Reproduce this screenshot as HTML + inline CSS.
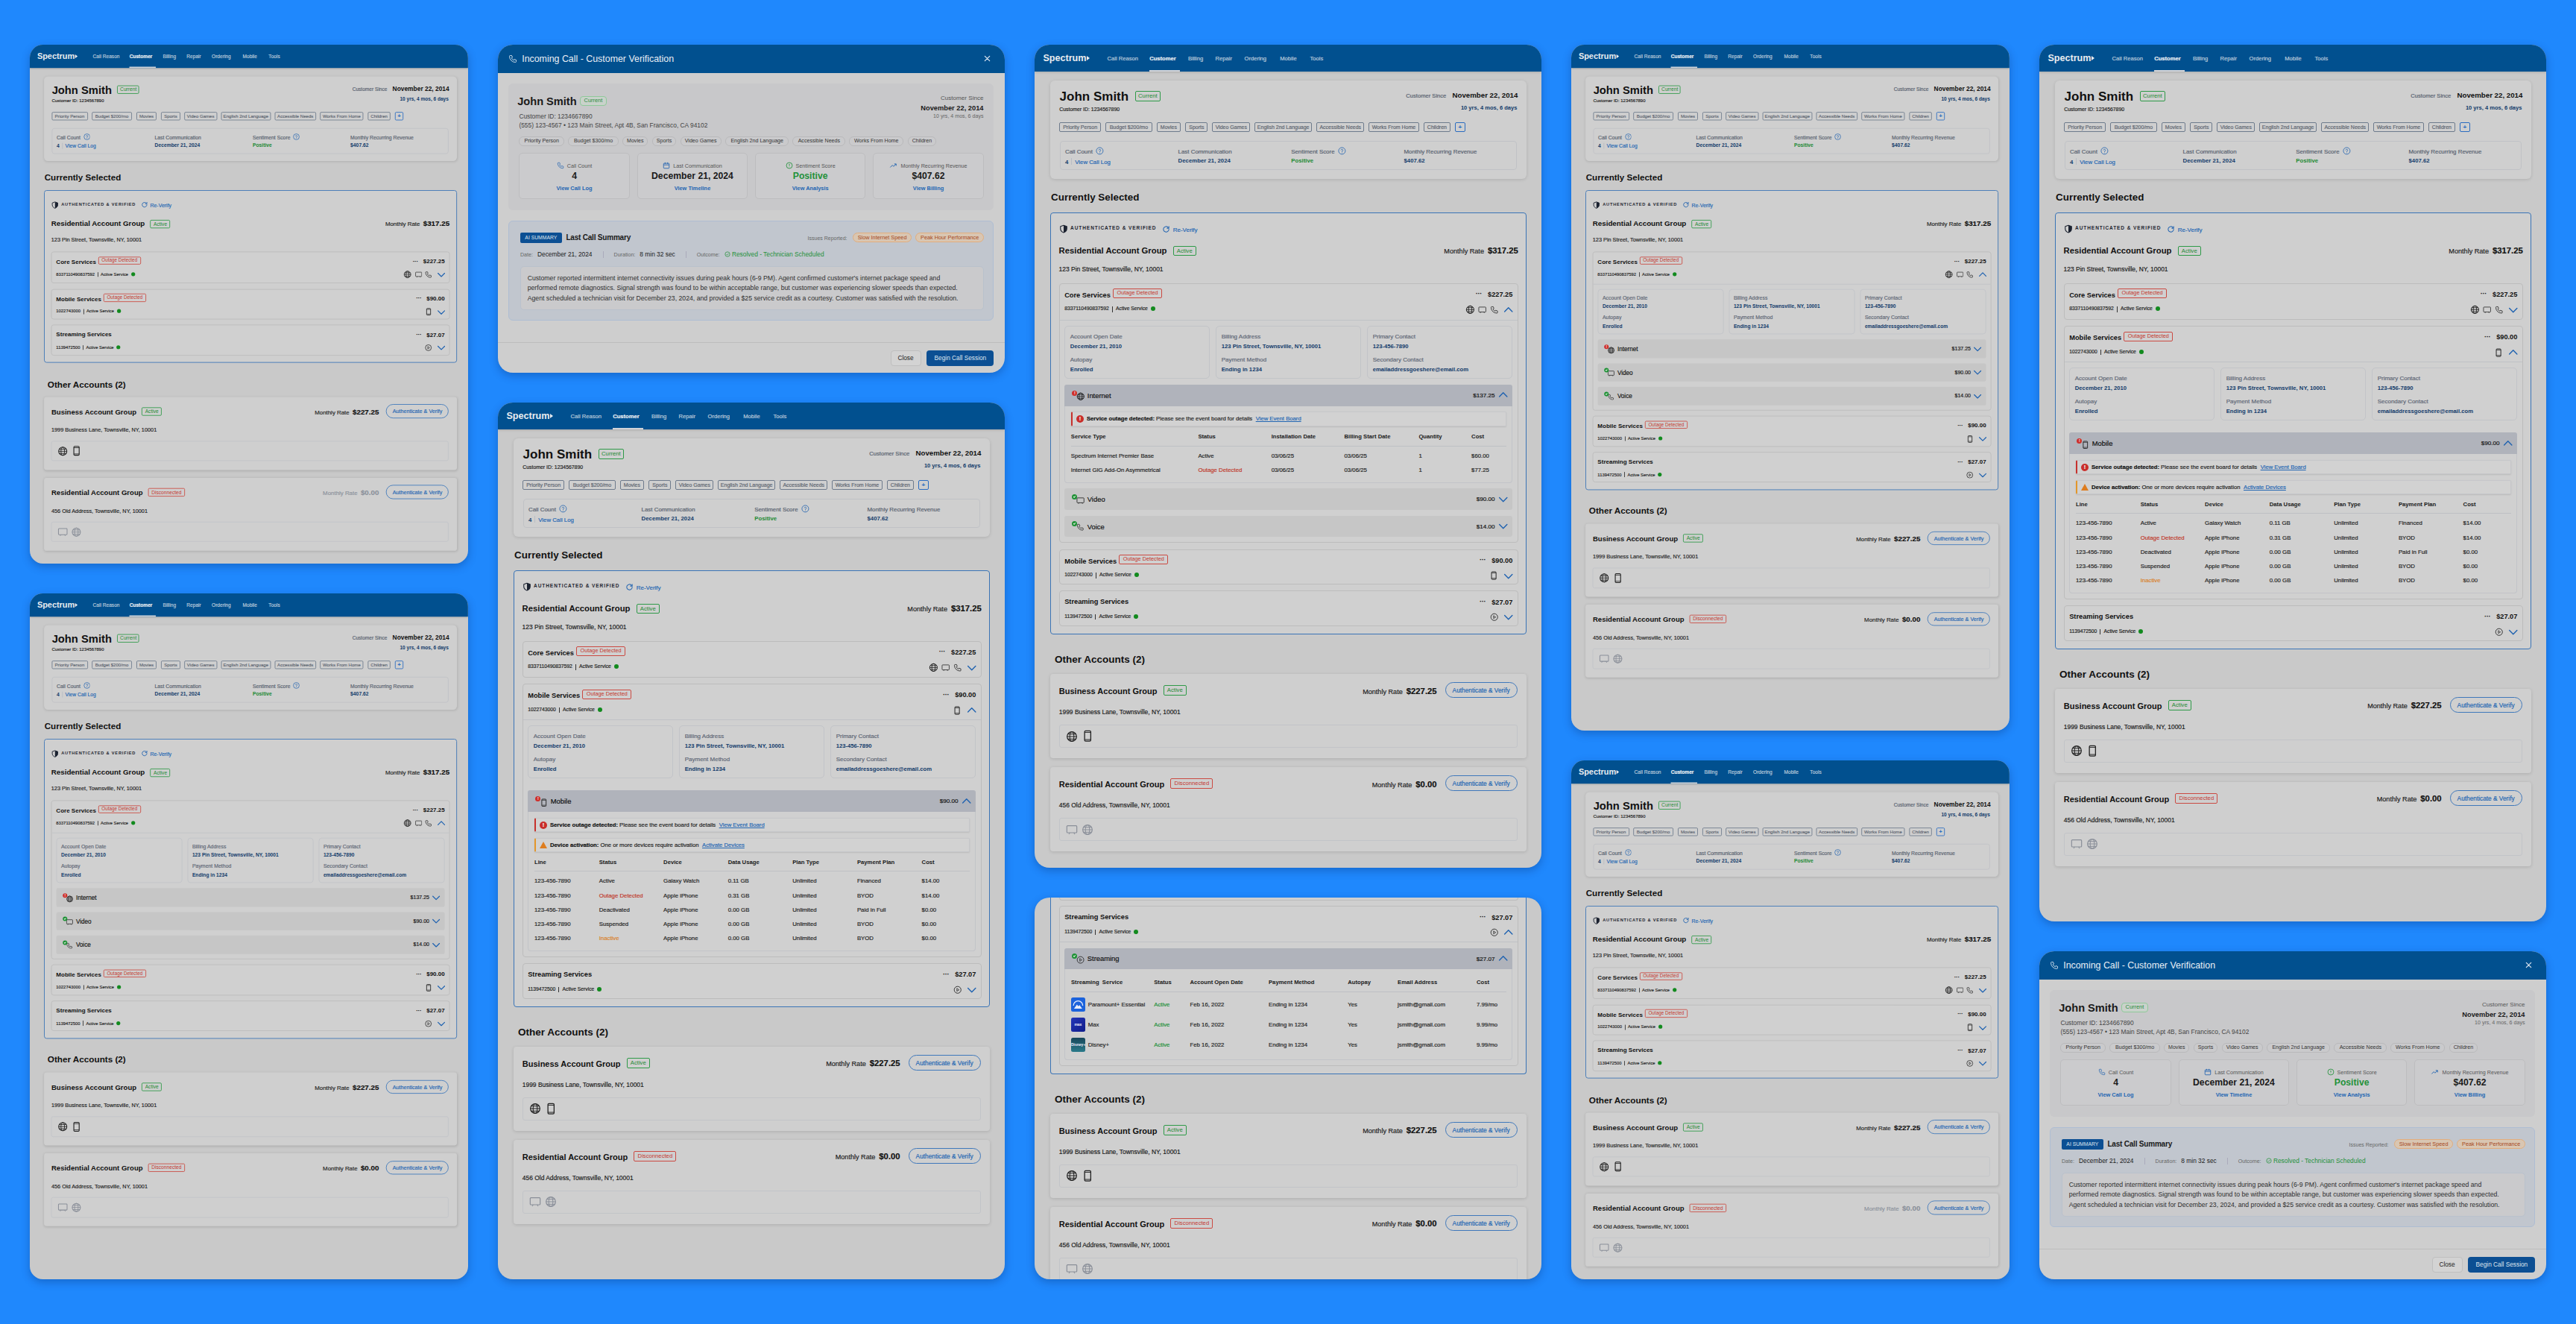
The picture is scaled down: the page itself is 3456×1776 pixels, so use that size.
<!DOCTYPE html><html><head><meta charset="utf-8"><title>Spectrum Agent Console</title><style>

*{box-sizing:border-box;margin:0;padding:0}
html,body{width:3456px;height:1776px;overflow:hidden}
body{background:#1f88fd;font-family:"Liberation Sans",sans-serif;color:#111;position:relative}
.td,.addr,.sva,.alert,.il,.tag,.cid,.csl,.stl,.mr,.nav,.subn,.subp,.rever,.abtn,.lnk,.alink{-webkit-text-stroke:0.18px currentColor}
.card{position:absolute;border-radius:20px;overflow:hidden;background:#c9c9c9;box-shadow:0 4px 12px rgba(0,25,80,.28)}
.card.sm{border-radius:17.5px}
.scl{transform:scale(0.867);transform-origin:0 0;position:relative}
.sm .body{padding:12.6px 17.5px 0 21.9px}
.acct.gd .mr,.acct.gd .mr b{color:#8b919b}
.scl0{position:relative}
.hdr{position:relative;height:36px;background:#01508f;box-shadow:0 1px 3px rgba(0,0,0,.16);z-index:2}
.logo{position:absolute;left:11.4px;top:11.73px;font-size:12.6px;line-height:1;font-weight:bold;color:#e9ecf0;letter-spacing:0}
.ltri{display:inline-block;width:0;height:0;border-left:4.4px solid #e9ecf0;border-top:3.1px solid transparent;border-bottom:3.1px solid transparent;margin-left:0.5px;vertical-align:0.5px}
.nav{position:absolute;top:14.57px;font-size:7.6px;line-height:1;color:#bfcddd;white-space:nowrap}
.nav.act{color:#eef1f5;font-weight:bold}
.uline{position:absolute;left:154.2px;width:40.5px;top:34.3px;height:1.7px;background:#d0d4da}
.body{position:relative;padding:12.2px 20px 0 21.3px}
.cust{position:relative;height:131.9px;background:#cfcfcf;border-radius:6px;box-shadow:0 1px 4px rgba(0,0,0,.13)}
.jname{position:absolute;left:12.3px;top:13.31px;font-size:17px;line-height:1;font-weight:bold}
.bdg{position:absolute;height:13.3px;line-height:11.5px;font-size:7.7px;padding:0 4.1px;border:1.1px solid;border-radius:2px;white-space:nowrap;text-align:center}
.bdg.g{color:#1e8a34;border-color:#2e9a48}
.bdg.r{color:#c5392f;border-color:#cb4a42}
.cust .bdg.g{left:113.6px;top:14.2px;width:34px;padding:0}
.cid{position:absolute;left:12px;top:35.76px;font-size:6.9px;line-height:1;color:#222}
.csince{position:absolute;right:11.7px;top:15.29px;font-size:9.7px;line-height:1;white-space:nowrap}
.csl{font-size:7.6px;color:#56606e;margin-right:8.2px}
.csd{font-size:9.7px;font-weight:bold;color:#111}
.cyrs{position:absolute;right:12.6px;top:32.41px;font-size:7.55px;line-height:1;font-weight:bold;color:#123b6b}
.tag{position:absolute;top:55.6px;height:13.1px;border:1px solid #6e7b8c;border-radius:2px;font-size:7px;line-height:11.1px;text-align:center;color:#5d6570;white-space:nowrap;overflow:hidden}
.tag.plus{border-color:#2b6cc0;color:#2b6cc0;font-weight:bold;font-size:8px}
.stats{position:absolute;left:12.3px;right:12.6px;top:80.7px;height:39.5px;border:1px solid #c0c2c6;border-radius:4px}
.st{position:absolute;top:0;width:150px}
.stl{position:absolute;top:9.71px;font-size:7.9px;line-height:1;color:#56606e;white-space:nowrap}
.stl svg{position:absolute;top:-2.6px;margin-left:4.2px}
.stv{position:absolute;top:22.2px;font-size:7.8px;line-height:1;font-weight:bold;white-space:nowrap}
.nv{color:#123b6b}
.gr{color:#1e8a34}
.lnk{color:#2266b3;font-weight:normal}
.vsep{display:inline-block;width:0.8px;height:8.5px;background:#b8bcc4;margin:0 4.2px -1px 4px}
.h2{font-size:13.4px;line-height:1;font-weight:bold;white-space:nowrap}
.h2.cs{position:relative;margin-left:0.8px;margin-top:18.26px;height:13.4px}
.sel{position:relative;margin-top:13.34px;border:1.5px solid #3a74b6;border-radius:4px;background:#cfcfcf;padding:0 10.2px 10.3px 10.3px}
.auth{position:relative;height:36.4px}
.auth>svg{position:absolute;left:0;top:15.3px}
.authx{position:absolute;left:15.5px;top:17.3px;font-size:6.5px;line-height:1;font-weight:bold;letter-spacing:0.93px;color:#1e2530;white-space:nowrap}
.rever{position:absolute;left:138.5px;top:16.03px;font-size:8px;line-height:1;color:#2266b3;white-space:nowrap}
.rever svg{vertical-align:-1.6px;margin-right:3.6px}
.grp{position:relative;height:29px}
.gname{position:absolute;left:0;top:8.35px;font-size:11.28px;line-height:1;font-weight:bold;white-space:nowrap}
.gname .bdg{position:relative;display:inline-block;margin-left:8.3px;top:-0.7px;font-weight:normal;vertical-align:baseline}
.mr{position:absolute;right:0;top:8.33px;font-size:9.1px;line-height:1;white-space:nowrap;color:#222}
.mr b{font-size:11.3px;margin-left:2.5px;color:#111}
.addr{position:relative;height:28.1px;font-size:8.45px;line-height:1;padding-top:5.75px;color:#1c1c1c;white-space:nowrap}
.svc{position:relative;background:#d0d0d0;border:1px solid #bcbcbc;border-radius:4px;margin-bottom:8.2px}
.svc:last-child{margin-bottom:0}
.svh{position:relative;height:45.6px}
.svc.core .svh{height:47.5px}
.svc.x .svh{height:47px}
.svc.core.x .svh{height:48.6px}
.svt{position:absolute;left:6.6px;top:9.97px;font-size:9.25px;line-height:1;font-weight:bold;white-space:nowrap}
.svt .bdg{position:relative;display:inline-block;margin-left:3.3px;top:-3.2px;font-weight:normal;height:12.6px;line-height:10.8px;font-size:7.3px;padding:0 4.3px}
.svp{position:absolute;right:6.5px;top:10.21px;font-size:9.2px;line-height:1;font-weight:bold;white-space:nowrap}
.dots{font-weight:bold;margin-right:8px;letter-spacing:-0.3px;position:relative;top:-0.5px}
.sva{position:absolute;left:6.6px;top:30.79px;font-size:6.75px;line-height:1;color:#222;white-space:nowrap}
.pipe{display:inline-block;width:0.9px;height:1px;margin:0 4.2px;position:relative;font-size:0}
.pipe::before{content:'';position:absolute;left:0;bottom:-0.8px;height:7.4px;width:0.9px;background:#333}
.gdot{display:inline-block;width:6px;height:6px;border-radius:50%;background:#128a1e;margin-left:4.2px;vertical-align:-0.6px}
.svi{position:absolute;right:3.3px;top:29.6px;height:10.4px;display:flex;gap:4.4px;align-items:center}
.svi svg{display:block}
.chv{margin-left:0.5px}
.svbody{position:relative;border-top:1px solid #c0c2c6;padding:7.2px 6.6px 7.2px 6.6px}
.info3{display:flex;gap:7.8px;height:70.5px;margin-bottom:8.2px}
.svbody.mob .info3{margin-bottom:16.4px}
.ibox{flex:1;border:1px solid #c2c4c8;border-radius:5px;background:#d0d0d0;position:relative}
.il,.iv{position:absolute;left:6.6px;line-height:1;white-space:nowrap}
.il{font-size:8px;color:#5d6675}
.iv{font-size:7.7px;font-weight:bold;color:#123b6b}
.il.a{top:9.83px} .iv.a{top:22.68px} .il.b{top:40.63px} .iv.b{top:53.28px}
.sub{position:relative;height:28.3px;background:#c6c6c6;border-radius:3px;margin-bottom:8.2px}
.sub:last-child{margin-bottom:0}
.sub.exp{background:#b0b3bb;border-radius:3px 3px 0 0;margin-bottom:0;height:28.5px}
.sico{position:absolute;left:10.2px;top:7.6px;width:18px;height:14px}
.sico svg{position:absolute;left:5.2px;top:2.9px}
.sdot{position:absolute;left:0;top:0;width:7px;height:7px;border-radius:50%;z-index:1}
.sdot.err{background:#cf2e2a;color:#f3f3f3;font-size:5.5px;font-weight:bold;line-height:7px;text-align:center}
.sdot.ok{background:#1f9236}
.sdot.ok::after{content:'';position:absolute;left:2px;top:1.6px;width:2.2px;height:1.2px;border-left:0.8px solid #e8f0e8;border-bottom:0.8px solid #e8f0e8;transform:rotate(-45deg)}
.subn{position:absolute;left:30.6px;top:9.64px;font-size:9.4px;line-height:1;white-space:nowrap}
.subp{position:absolute;right:23.7px;top:11.04px;font-size:8.1px;line-height:1;white-space:nowrap}
.subc{position:absolute;right:4px;top:5.4px}
.subc svg{display:block}
.xpanel{display:flow-root;position:relative;border:1px solid #c2c4c8;border-top:none;border-radius:0 0 4px 4px;margin-bottom:7.6px;background:#d0d0d0}
.svbody.mob .xpanel,.svbody.str .xpanel{margin-bottom:0}
.alert{position:relative;margin:7.9px 7.6px 0 7.6px;height:19.3px;border:1px solid #c6c7ca;border-left:2.4px solid #c7312c;border-radius:2px;background:#d2d2d2;font-size:7.7px;line-height:17.3px;padding-left:19.2px;white-space:nowrap;color:#222;box-shadow:0 1px 2px rgba(0,0,0,.10)}
.alert.warn{border-left-color:#e3962b;margin-top:8.1px}
.alert b{color:#111}
.alink{color:#2266b3;text-decoration:underline;margin-left:4.5px}
.aic{position:absolute;left:5.2px;top:3.9px;width:10px;height:10px}
.aic.err{border-radius:50%;background:#c92e2a;color:#eee;font-size:7.5px;font-weight:bold;line-height:10px;text-align:center}
.aic.warn{width:0;height:0;border-left:5.2px solid transparent;border-right:5.2px solid transparent;border-bottom:9.4px solid #de7d1f;top:4px}
.tbl{position:absolute;left:0;right:0;top:0;bottom:0}
.th{position:absolute;font-size:7.7px;line-height:1;font-weight:bold;white-space:nowrap;color:#1a1a1a;margin-top:-6.52px}
.td{position:absolute;font-size:7.8px;line-height:1;white-space:nowrap;color:#1f1f1f;margin-top:-6.6px}
.tsep{position:absolute;left:7.6px;right:7.6px;height:1px;background:#bec0c4}
.slogo{position:absolute;width:18.8px;height:18.8px;border-radius:2.5px;overflow:hidden;color:#eef;font-size:5px;font-weight:bold;text-align:center;line-height:18.8px}
.oa{position:relative;margin-top:26.67px;margin-left:5.6px;height:13.5px;font-size:13.5px}
.acct{position:relative;height:113px;background:#cfcfcf;border-radius:4px;box-shadow:0 1px 4px rgba(0,0,0,.14);padding:0 12.4px 0 11.5px;margin-top:12.53px}
.acct.dis{margin-top:12px}
.acct .grp{height:40px}
.acct .gname{top:17.99px;font-size:11px}
.acct .gname .bdg{top:-2.4px}

.acct .mr{right:108px;top:17.73px}
.acct .mr b{font-size:11.3px}
.abtn{position:absolute;right:0;top:11.5px;width:97px;height:21.1px;border:1px solid #3f78bb;border-radius:11px;font-size:8.3px;line-height:20.4px;text-align:center;color:#2266b3;white-space:nowrap}
.acct .addr{height:27.9px;padding-top:6.85px}
.icbox{position:relative;height:31.6px;border:1px solid #c2c4c8;border-radius:3px;display:flex;align-items:center;gap:5px;padding-left:8.3px}
.icbox svg{display:block}
/* card F */
.body.fs{padding-top:0}
.fsel{margin-top:0;border-top:none;border-radius:0 0 4px 4px;padding-top:0}
.prevbox{height:3.5px;border:1px solid #bcbcbc;border-top:none;border-radius:0 0 4px 4px;background:#d0d0d0;margin-bottom:7.9px}
/* modal */
.modal{background:#cecece}
.mhdr{position:relative;height:37.8px;background:#01508f}
.mhdr>svg{position:absolute;left:14.3px;top:13px}
.mtitle{position:absolute;left:32.2px;top:13.2px;font-size:12.4px;line-height:1;color:#e9eef5;white-space:nowrap}
.mx{position:absolute;right:18.5px;top:13.3px}
.mx svg{display:block}
.mpanel{position:absolute;left:14.3px;top:52px;width:651.1px;height:169.5px;background:#c8c8ca;border-radius:6px}
.mname{position:absolute;left:11.9px;top:16.94px;font-size:14.6px;line-height:1;font-weight:bold;color:#1a1a1a}
.mbdg{position:absolute;left:95.7px;top:17.3px;height:12.3px;border:1px solid #8fc99a;border-radius:4px;font-size:7.4px;line-height:10.3px;padding:0 4.6px;color:#2a8a3d;background:#c9d2cb}
.mcid{position:absolute;left:14.1px;top:39.59px;font-size:8.4px;line-height:1;color:#444;white-space:nowrap}
.maddr{position:absolute;left:14.1px;top:51.59px;font-size:8.4px;line-height:1;color:#444;white-space:nowrap}
.mcs1{position:absolute;right:13.9px;top:15.94px;font-size:8.1px;line-height:1;color:#555;white-space:nowrap}
.mcs2{position:absolute;right:13.9px;top:28.53px;font-size:9.3px;line-height:1;font-weight:bold;color:#1a1a1a;white-space:nowrap}
.mcs3{position:absolute;right:13.9px;top:41.19px;font-size:7.1px;line-height:1;color:#666;white-space:nowrap}
.mtag{position:absolute;top:71.2px;height:12.5px;border:1px solid #b9b9bb;border-radius:6px;font-size:7.1px;line-height:10.5px;text-align:center;color:#333;white-space:nowrap;overflow:hidden;background:#cacacc}
.mst{position:absolute;top:93.4px;width:148.3px;height:62px;border:1px solid #bdbdbf;border-radius:5px;background:#cbcbcd;text-align:center}
.msl{position:absolute;left:0;right:0;top:10.91px;font-size:7.2px;line-height:1;color:#555;white-space:nowrap}
.msl svg{vertical-align:-2.5px;margin-right:4px}
.msv{position:absolute;left:0;right:0;top:23.97px;font-size:12.2px;line-height:1;font-weight:bold;color:#1a1a1a;white-space:nowrap}
.msv.gr{color:#23913a}
.msk{position:absolute;left:0;right:0;top:42.64px;font-size:7.4px;line-height:1;font-weight:bold;color:#2266b3;white-space:nowrap}
.mai{position:absolute;left:14.3px;top:236.3px;width:651.1px;height:134px;background:#c1c6ce;border:1px solid #aebdd3;border-radius:6px}
.aib{position:absolute;left:14.7px;top:14.4px;width:55.7px;height:14.1px;background:#0c4f93;border-radius:2px;color:#dfe6ef;font-size:6.8px;line-height:14.1px;text-align:center;white-space:nowrap}
.lcs{position:absolute;left:76.1px;top:16.54px;font-size:10px;line-height:1;font-weight:bold;color:#1a1a1a;white-space:nowrap;letter-spacing:-0.2px}
.iss{position:absolute;left:400.3px;top:18.27px;font-size:7px;line-height:1;color:#666;white-space:nowrap}
.ipill{position:absolute;top:15px;height:13px;border:1px solid #e2ad7c;border-radius:7px;background:#d9c6b2;font-size:7.3px;line-height:11px;text-align:center;color:#a6461c;white-space:nowrap;overflow:hidden}
.mmeta{position:absolute;left:14.7px;top:39.69px;font-size:8.4px;line-height:1;white-space:nowrap;display:flex;align-items:baseline}
.mk{font-size:7.1px;color:#666;margin-right:6px}
.mvv{color:#1a1a1a}
.msep{display:inline-block;width:1px;height:9px;background:#aab;margin:0 14px;align-self:center}
.mok{color:#23913a}
.mok svg{vertical-align:-1px}
.mtext{position:absolute;left:15.2px;top:59.8px;width:621.2px;height:58.9px;border:1px solid #b9c1cc;border-radius:5px;background:#cacacc;padding:8.75px 6px 0 8.2px;font-size:8.7px;line-height:13.6px;color:#2e2e2e;white-space:nowrap}
.mfoot{position:absolute;left:0;right:0;top:399.3px;bottom:0;border-top:1px solid #bdbdbd}
.mclose{position:absolute;left:526.5px;top:10.1px;width:41px;height:20.6px;border:1px solid #bfbfbf;border-radius:4px;background:#d3d3d3;font-size:8.3px;line-height:18.6px;text-align:center;color:#222}
.mbegin{position:absolute;left:575.4px;top:10.1px;width:90px;height:20.6px;border-radius:4px;background:#0c4f93;font-size:8.3px;line-height:20.6px;text-align:center;color:#dfe6ef;white-space:nowrap}

</style></head><body>
<div class="card sm" style="left:40px;top:60px;width:588px;height:696px"><div class="scl" style="width:678.2px;height:802.8px"><div class="hdr"><div class="logo">Spectrum<span class="ltri"></span></div><span class="nav" style="left:97.6px">Call Reason</span><span class="nav act" style="left:154.2px">Customer</span><span class="nav" style="left:205.9px">Billing</span><span class="nav" style="left:242.6px">Repair</span><span class="nav" style="left:281.5px">Ordering</span><span class="nav" style="left:329.3px">Mobile</span><span class="nav" style="left:369.5px">Tools</span><span class="uline"></span></div><div class="body"><div class="cust">
<div class="jname">John Smith</div><span class="bdg g">Current</span>
<div class="cid">Customer ID: 1234567890</div>
<div class="csince"><span class="csl">Customer Since</span><span class="csd">November 22, 2014</span></div>
<div class="cyrs">10 yrs, 4 mos, 6 days</div>
<span class="tag" style="left:11.7px;width:56.2px">Priority Person</span><span class="tag" style="left:73.8px;width:62.6px">Budget $200/mo</span><span class="tag" style="left:142.9px;width:31.5px">Movies</span><span class="tag" style="left:181.1px;width:30.1px">Sports</span><span class="tag" style="left:217.2px;width:50.6px">Video Games</span><span class="tag" style="left:273.8px;width:77.2px">English 2nd Language</span><span class="tag" style="left:357.2px;width:63.6px">Accessible Needs</span><span class="tag" style="left:427.0px;width:67.3px">Works From Home</span><span class="tag" style="left:500.8px;width:35.6px">Children</span><span class="tag plus" style="left:542.7px;width:13.7px">+</span>
<div class="stats">
 <div class="st" style="left:6.4px"><div class="stl">Call Count <svg class="" style="" width="10.8" height="10.8" viewBox="0 0 24 24" fill="none"><circle cx="12" cy="12" r="10" stroke="#1f62b0" stroke-width="1.8"/><path d="M9.2 9.2a2.9 2.9 0 0 1 5.6 1c0 2-2.8 2.4-2.8 4.2" stroke="#1f62b0" stroke-width="1.8" stroke-linecap="round"/><circle cx="12" cy="17.6" r="1.1" fill="#1f62b0"/></svg></div><div class="stv"><b class="nv">4</b><span class="vsep"></span><span class="lnk">View Call Log</span></div></div>
 <div class="st" style="left:158px"><div class="stl">Last Communication</div><div class="stv nv">December 21, 2024</div></div>
 <div class="st" style="left:309.6px"><div class="stl">Sentiment Score <svg class="" style="" width="10.8" height="10.8" viewBox="0 0 24 24" fill="none"><circle cx="12" cy="12" r="10" stroke="#1f62b0" stroke-width="1.8"/><path d="M9.2 9.2a2.9 2.9 0 0 1 5.6 1c0 2-2.8 2.4-2.8 4.2" stroke="#1f62b0" stroke-width="1.8" stroke-linecap="round"/><circle cx="12" cy="17.6" r="1.1" fill="#1f62b0"/></svg></div><div class="stv gr">Positive</div></div>
 <div class="st" style="left:460.9px"><div class="stl">Monthly Recurring Revenue</div><div class="stv nv">$407.62</div></div>
</div>
</div><div class="h2 cs">Currently Selected</div><div class="sel"><div class="auth"><svg class="" style="" width="12" height="12" viewBox="0 0 24 24" fill="none"><path d="M12 2.5l8.5 3v6c0 5-3.6 8.8-8.5 10.5C7.1 20.3 3.5 16.5 3.5 11.5v-6z" stroke="#1b2230" stroke-width="2.2" stroke-linejoin="round"/><path d="M12 2.5v19.5c4.9-1.7 8.5-5.5 8.5-10.5v-6z" fill="#1b2230"/></svg><span class="authx">AUTHENTICATED &amp; VERIFIED</span><span class="rever"><svg class="" style="" width="11" height="11" viewBox="0 0 24 24" fill="none"><path d="M20 12a8 8 0 1 1-2.5-5.8M20 4v5h-5" stroke="#1f62b0" stroke-width="2.2" stroke-linecap="round" stroke-linejoin="round"/></svg>Re-Verify</span></div>
<div class="grp"><span class="gname">Residential Account Group<span class="bdg g">Active</span></span><span class="mr">Monthly Rate <b>$317.25</b></span></div>
<div class="addr">123 Pin Street, Townsville, NY, 10001</div><div class="svc core"><div class="svh"><div class="svt">Core Services<span class="bdg r">Outage Detected</span></div><div class="svp"><span class="dots">···</span>$227.25</div>
<div class="sva">8337110490837592<span class="pipe">|</span>Active Service<span class="gdot"></span></div>
<div class="svi"><svg class="" style="" width="12.8" height="12.8" viewBox="0 0 24 24" fill="none"><circle cx="12" cy="12" r="9.5" stroke="#1a1a1a" stroke-width="1.8"/><ellipse cx="12" cy="12" rx="4.2" ry="9.5" stroke="#1a1a1a" stroke-width="1.6"/><path d="M2.5 12h19M4 7h16M4 17h16" stroke="#1a1a1a" stroke-width="1.5"/></svg><svg class="" style="" width="11.4" height="11.4" viewBox="0 0 24 24" fill="none"><rect x="2" y="4" width="20" height="14" rx="1.5" stroke="#333" stroke-width="1.8"/><path d="M6 21l2-3M18 21l-2-3" stroke="#333" stroke-width="1.6"/></svg><svg class="" style="" width="11.5" height="11.5" viewBox="0 0 24 24" fill="none"><path d="M5 3h4l2 5-2.5 1.5a11 11 0 0 0 6 6L16 13l5 2v4a2 2 0 0 1-2 2A16 16 0 0 1 3 5a2 2 0 0 1 2-2z" stroke="#222" stroke-width="1.7" stroke-linejoin="round"/></svg><span class="chv"><svg class="" style="" width="17.5" height="17.5" viewBox="0 0 24 24" fill="none"><path d="M5 9l7 7 7-7" stroke="#1f62b0" stroke-width="1.9" stroke-linecap="round" stroke-linejoin="round"/></svg></span></div></div></div><div class="svc"><div class="svh"><div class="svt">Mobile Services<span class="bdg r">Outage Detected</span></div><div class="svp"><span class="dots">···</span>$90.00</div>
<div class="sva">1022743000<span class="pipe">|</span>Active Service<span class="gdot"></span></div>
<div class="svi"><svg class="" style="" width="12.2" height="12.2" viewBox="0 0 24 24" fill="none"><rect x="6" y="2" width="12" height="20" rx="2" stroke="#222" stroke-width="1.9"/><path d="M6 5h12M6 19h12" stroke="#222" stroke-width="1.4"/></svg><span class="chv"><svg class="" style="" width="17.5" height="17.5" viewBox="0 0 24 24" fill="none"><path d="M5 9l7 7 7-7" stroke="#1f62b0" stroke-width="1.9" stroke-linecap="round" stroke-linejoin="round"/></svg></span></div></div></div><div class="svc"><div class="svh"><div class="svt">Streaming Services</div><div class="svp"><span class="dots">···</span>$27.07</div>
<div class="sva">1139472500<span class="pipe">|</span>Active Service<span class="gdot"></span></div>
<div class="svi"><svg class="" style="" width="11.5" height="11.5" viewBox="0 0 24 24" fill="none"><circle cx="12" cy="12" r="9.5" stroke="#222" stroke-width="1.8"/><path d="M10 8l6 4-6 4z" stroke="#222" stroke-width="1.6" stroke-linejoin="round"/></svg><span class="chv"><svg class="" style="" width="17.5" height="17.5" viewBox="0 0 24 24" fill="none"><path d="M5 9l7 7 7-7" stroke="#1f62b0" stroke-width="1.9" stroke-linecap="round" stroke-linejoin="round"/></svg></span></div></div></div></div><div class="h2 oa">Other Accounts (2)</div>
<div class="acct"><div class="grp"><span class="gname">Business Account Group<span class="bdg g">Active</span></span><span class="mr">Monthly Rate <b>$227.25</b></span><span class="abtn">Authenticate &amp; Verify</span></div>
<div class="addr">1999 Business Lane, Townsville, NY, 10001</div><div class="icbox"><svg class="" style="" width="16" height="16" viewBox="0 0 24 24" fill="none"><circle cx="12" cy="12" r="9.5" stroke="#222" stroke-width="1.8"/><ellipse cx="12" cy="12" rx="4.2" ry="9.5" stroke="#222" stroke-width="1.6"/><path d="M2.5 12h19M4 7h16M4 17h16" stroke="#222" stroke-width="1.5"/></svg><svg class="" style="" width="16.5" height="16.5" viewBox="0 0 24 24" fill="none"><rect x="6" y="2" width="12" height="20" rx="2" stroke="#222" stroke-width="1.9"/><path d="M6 5h12M6 19h12" stroke="#222" stroke-width="1.4"/></svg></div></div>
<div class="acct dis gd"><div class="grp"><span class="gname">Residential Account Group<span class="bdg r">Disconnected</span></span><span class="mr">Monthly Rate <b>$0.00</b></span><span class="abtn">Authenticate &amp; Verify</span></div>
<div class="addr">456 Old Address, Townsville, NY, 10001</div><div class="icbox"><svg class="" style="" width="16" height="16" viewBox="0 0 24 24" fill="none"><rect x="2" y="4" width="20" height="14" rx="1.5" stroke="#8a8f99" stroke-width="1.8"/><path d="M6 21l2-3M18 21l-2-3" stroke="#8a8f99" stroke-width="1.6"/></svg><svg class="" style="" width="16" height="16" viewBox="0 0 24 24" fill="none"><circle cx="12" cy="12" r="9.5" stroke="#8a8f99" stroke-width="1.8"/><ellipse cx="12" cy="12" rx="4.2" ry="9.5" stroke="#8a8f99" stroke-width="1.6"/><path d="M2.5 12h19M4 7h16M4 17h16" stroke="#8a8f99" stroke-width="1.5"/></svg></div></div></div></div></div>
<div class="card sm" style="left:40px;top:796px;width:588px;height:920px"><div class="scl" style="width:678.2px;height:1061.1px"><div class="hdr"><div class="logo">Spectrum<span class="ltri"></span></div><span class="nav" style="left:97.6px">Call Reason</span><span class="nav act" style="left:154.2px">Customer</span><span class="nav" style="left:205.9px">Billing</span><span class="nav" style="left:242.6px">Repair</span><span class="nav" style="left:281.5px">Ordering</span><span class="nav" style="left:329.3px">Mobile</span><span class="nav" style="left:369.5px">Tools</span><span class="uline"></span></div><div class="body"><div class="cust">
<div class="jname">John Smith</div><span class="bdg g">Current</span>
<div class="cid">Customer ID: 1234567890</div>
<div class="csince"><span class="csl">Customer Since</span><span class="csd">November 22, 2014</span></div>
<div class="cyrs">10 yrs, 4 mos, 6 days</div>
<span class="tag" style="left:11.7px;width:56.2px">Priority Person</span><span class="tag" style="left:73.8px;width:62.6px">Budget $200/mo</span><span class="tag" style="left:142.9px;width:31.5px">Movies</span><span class="tag" style="left:181.1px;width:30.1px">Sports</span><span class="tag" style="left:217.2px;width:50.6px">Video Games</span><span class="tag" style="left:273.8px;width:77.2px">English 2nd Language</span><span class="tag" style="left:357.2px;width:63.6px">Accessible Needs</span><span class="tag" style="left:427.0px;width:67.3px">Works From Home</span><span class="tag" style="left:500.8px;width:35.6px">Children</span><span class="tag plus" style="left:542.7px;width:13.7px">+</span>
<div class="stats">
 <div class="st" style="left:6.4px"><div class="stl">Call Count <svg class="" style="" width="10.8" height="10.8" viewBox="0 0 24 24" fill="none"><circle cx="12" cy="12" r="10" stroke="#1f62b0" stroke-width="1.8"/><path d="M9.2 9.2a2.9 2.9 0 0 1 5.6 1c0 2-2.8 2.4-2.8 4.2" stroke="#1f62b0" stroke-width="1.8" stroke-linecap="round"/><circle cx="12" cy="17.6" r="1.1" fill="#1f62b0"/></svg></div><div class="stv"><b class="nv">4</b><span class="vsep"></span><span class="lnk">View Call Log</span></div></div>
 <div class="st" style="left:158px"><div class="stl">Last Communication</div><div class="stv nv">December 21, 2024</div></div>
 <div class="st" style="left:309.6px"><div class="stl">Sentiment Score <svg class="" style="" width="10.8" height="10.8" viewBox="0 0 24 24" fill="none"><circle cx="12" cy="12" r="10" stroke="#1f62b0" stroke-width="1.8"/><path d="M9.2 9.2a2.9 2.9 0 0 1 5.6 1c0 2-2.8 2.4-2.8 4.2" stroke="#1f62b0" stroke-width="1.8" stroke-linecap="round"/><circle cx="12" cy="17.6" r="1.1" fill="#1f62b0"/></svg></div><div class="stv gr">Positive</div></div>
 <div class="st" style="left:460.9px"><div class="stl">Monthly Recurring Revenue</div><div class="stv nv">$407.62</div></div>
</div>
</div><div class="h2 cs">Currently Selected</div><div class="sel"><div class="auth"><svg class="" style="" width="12" height="12" viewBox="0 0 24 24" fill="none"><path d="M12 2.5l8.5 3v6c0 5-3.6 8.8-8.5 10.5C7.1 20.3 3.5 16.5 3.5 11.5v-6z" stroke="#1b2230" stroke-width="2.2" stroke-linejoin="round"/><path d="M12 2.5v19.5c4.9-1.7 8.5-5.5 8.5-10.5v-6z" fill="#1b2230"/></svg><span class="authx">AUTHENTICATED &amp; VERIFIED</span><span class="rever"><svg class="" style="" width="11" height="11" viewBox="0 0 24 24" fill="none"><path d="M20 12a8 8 0 1 1-2.5-5.8M20 4v5h-5" stroke="#1f62b0" stroke-width="2.2" stroke-linecap="round" stroke-linejoin="round"/></svg>Re-Verify</span></div>
<div class="grp"><span class="gname">Residential Account Group<span class="bdg g">Active</span></span><span class="mr">Monthly Rate <b>$317.25</b></span></div>
<div class="addr">123 Pin Street, Townsville, NY, 10001</div><div class="svc core x"><div class="svh"><div class="svt">Core Services<span class="bdg r">Outage Detected</span></div><div class="svp"><span class="dots">···</span>$227.25</div>
<div class="sva">8337110490837592<span class="pipe">|</span>Active Service<span class="gdot"></span></div>
<div class="svi"><svg class="" style="" width="12.8" height="12.8" viewBox="0 0 24 24" fill="none"><circle cx="12" cy="12" r="9.5" stroke="#1a1a1a" stroke-width="1.8"/><ellipse cx="12" cy="12" rx="4.2" ry="9.5" stroke="#1a1a1a" stroke-width="1.6"/><path d="M2.5 12h19M4 7h16M4 17h16" stroke="#1a1a1a" stroke-width="1.5"/></svg><svg class="" style="" width="11.4" height="11.4" viewBox="0 0 24 24" fill="none"><rect x="2" y="4" width="20" height="14" rx="1.5" stroke="#333" stroke-width="1.8"/><path d="M6 21l2-3M18 21l-2-3" stroke="#333" stroke-width="1.6"/></svg><svg class="" style="" width="11.5" height="11.5" viewBox="0 0 24 24" fill="none"><path d="M5 3h4l2 5-2.5 1.5a11 11 0 0 0 6 6L16 13l5 2v4a2 2 0 0 1-2 2A16 16 0 0 1 3 5a2 2 0 0 1 2-2z" stroke="#222" stroke-width="1.7" stroke-linejoin="round"/></svg><span class="chv"><svg class="" style="" width="17.5" height="17.5" viewBox="0 0 24 24" fill="none"><path d="M5 15l7-7 7 7" stroke="#1f62b0" stroke-width="1.9" stroke-linecap="round" stroke-linejoin="round"/></svg></span></div></div><div class="svbody"><div class="info3"><div class="ibox"><div class="il a">Account Open Date</div><div class="iv a">December 21, 2010</div><div class="il b">Autopay</div><div class="iv b">Enrolled</div></div><div class="ibox"><div class="il a">Billing Address</div><div class="iv a">123 Pin Street, Townsville, NY, 10001</div><div class="il b">Payment Method</div><div class="iv b">Ending in 1234</div></div><div class="ibox"><div class="il a">Primary Contact</div><div class="iv a">123-456-7890</div><div class="il b">Secondary Contact</div><div class="iv b">emailaddressgoeshere@email.com</div></div></div><div class="sub"><span class="sico"><span class="sdot err">!</span><svg class="" style="" width="11.6" height="11.6" viewBox="0 0 24 24" fill="none"><circle cx="12" cy="12" r="9.5" stroke="#111" stroke-width="1.8"/><ellipse cx="12" cy="12" rx="4.2" ry="9.5" stroke="#111" stroke-width="1.6"/><path d="M2.5 12h19M4 7h16M4 17h16" stroke="#111" stroke-width="1.5"/></svg></span><span class="subn">Internet</span><span class="subp">$137.25</span><span class="subc"><svg class="" style="" width="17.5" height="17.5" viewBox="0 0 24 24" fill="none"><path d="M5 9l7 7 7-7" stroke="#1f62b0" stroke-width="1.9" stroke-linecap="round" stroke-linejoin="round"/></svg></span></div><div class="sub"><span class="sico"><span class="sdot ok"></span><svg class="" style="" width="11.2" height="11.2" viewBox="0 0 24 24" fill="none"><rect x="2" y="4" width="20" height="14" rx="1.5" stroke="#222" stroke-width="1.8"/><path d="M6 21l2-3M18 21l-2-3" stroke="#222" stroke-width="1.6"/></svg></span><span class="subn">Video</span><span class="subp">$90.00</span><span class="subc"><svg class="" style="" width="17.5" height="17.5" viewBox="0 0 24 24" fill="none"><path d="M5 9l7 7 7-7" stroke="#1f62b0" stroke-width="1.9" stroke-linecap="round" stroke-linejoin="round"/></svg></span></div><div class="sub"><span class="sico"><span class="sdot ok"></span><svg class="" style="" width="10.5" height="10.5" viewBox="0 0 24 24" fill="none"><path d="M5 3h4l2 5-2.5 1.5a11 11 0 0 0 6 6L16 13l5 2v4a2 2 0 0 1-2 2A16 16 0 0 1 3 5a2 2 0 0 1 2-2z" stroke="#222" stroke-width="1.7" stroke-linejoin="round"/></svg></span><span class="subn">Voice</span><span class="subp">$14.00</span><span class="subc"><svg class="" style="" width="17.5" height="17.5" viewBox="0 0 24 24" fill="none"><path d="M5 9l7 7 7-7" stroke="#1f62b0" stroke-width="1.9" stroke-linecap="round" stroke-linejoin="round"/></svg></span></div></div></div><div class="svc"><div class="svh"><div class="svt">Mobile Services<span class="bdg r">Outage Detected</span></div><div class="svp"><span class="dots">···</span>$90.00</div>
<div class="sva">1022743000<span class="pipe">|</span>Active Service<span class="gdot"></span></div>
<div class="svi"><svg class="" style="" width="12.2" height="12.2" viewBox="0 0 24 24" fill="none"><rect x="6" y="2" width="12" height="20" rx="2" stroke="#222" stroke-width="1.9"/><path d="M6 5h12M6 19h12" stroke="#222" stroke-width="1.4"/></svg><span class="chv"><svg class="" style="" width="17.5" height="17.5" viewBox="0 0 24 24" fill="none"><path d="M5 9l7 7 7-7" stroke="#1f62b0" stroke-width="1.9" stroke-linecap="round" stroke-linejoin="round"/></svg></span></div></div></div><div class="svc"><div class="svh"><div class="svt">Streaming Services</div><div class="svp"><span class="dots">···</span>$27.07</div>
<div class="sva">1139472500<span class="pipe">|</span>Active Service<span class="gdot"></span></div>
<div class="svi"><svg class="" style="" width="11.5" height="11.5" viewBox="0 0 24 24" fill="none"><circle cx="12" cy="12" r="9.5" stroke="#222" stroke-width="1.8"/><path d="M10 8l6 4-6 4z" stroke="#222" stroke-width="1.6" stroke-linejoin="round"/></svg><span class="chv"><svg class="" style="" width="17.5" height="17.5" viewBox="0 0 24 24" fill="none"><path d="M5 9l7 7 7-7" stroke="#1f62b0" stroke-width="1.9" stroke-linecap="round" stroke-linejoin="round"/></svg></span></div></div></div></div><div class="h2 oa">Other Accounts (2)</div>
<div class="acct"><div class="grp"><span class="gname">Business Account Group<span class="bdg g">Active</span></span><span class="mr">Monthly Rate <b>$227.25</b></span><span class="abtn">Authenticate &amp; Verify</span></div>
<div class="addr">1999 Business Lane, Townsville, NY, 10001</div><div class="icbox"><svg class="" style="" width="16" height="16" viewBox="0 0 24 24" fill="none"><circle cx="12" cy="12" r="9.5" stroke="#222" stroke-width="1.8"/><ellipse cx="12" cy="12" rx="4.2" ry="9.5" stroke="#222" stroke-width="1.6"/><path d="M2.5 12h19M4 7h16M4 17h16" stroke="#222" stroke-width="1.5"/></svg><svg class="" style="" width="16.5" height="16.5" viewBox="0 0 24 24" fill="none"><rect x="6" y="2" width="12" height="20" rx="2" stroke="#222" stroke-width="1.9"/><path d="M6 5h12M6 19h12" stroke="#222" stroke-width="1.4"/></svg></div></div>
<div class="acct dis"><div class="grp"><span class="gname">Residential Account Group<span class="bdg r">Disconnected</span></span><span class="mr">Monthly Rate <b>$0.00</b></span><span class="abtn">Authenticate &amp; Verify</span></div>
<div class="addr">456 Old Address, Townsville, NY, 10001</div><div class="icbox"><svg class="" style="" width="16" height="16" viewBox="0 0 24 24" fill="none"><rect x="2" y="4" width="20" height="14" rx="1.5" stroke="#8a8f99" stroke-width="1.8"/><path d="M6 21l2-3M18 21l-2-3" stroke="#8a8f99" stroke-width="1.6"/></svg><svg class="" style="" width="16" height="16" viewBox="0 0 24 24" fill="none"><circle cx="12" cy="12" r="9.5" stroke="#8a8f99" stroke-width="1.8"/><ellipse cx="12" cy="12" rx="4.2" ry="9.5" stroke="#8a8f99" stroke-width="1.6"/><path d="M2.5 12h19M4 7h16M4 17h16" stroke="#8a8f99" stroke-width="1.5"/></svg></div></div></div></div></div>
<div class="card modal" style="left:668px;top:60px;width:680px;height:440px"><div class="scl0" style="width:680px;height:440px"><div class="mhdr"><svg class="" style="" width="12" height="12" viewBox="0 0 24 24" fill="none"><path d="M5 3h4l2 5-2.5 1.5a11 11 0 0 0 6 6L16 13l5 2v4a2 2 0 0 1-2 2A16 16 0 0 1 3 5a2 2 0 0 1 2-2z" stroke="#e8eef6" stroke-width="1.7" stroke-linejoin="round"/></svg><span class="mtitle">Incoming Call - Customer Verification</span><span class="mx"><svg class="" style="" width="11" height="11" viewBox="0 0 24 24" fill="none"><path d="M5 5l14 14M19 5L5 19" stroke="#e8eef6" stroke-width="2.4" stroke-linecap="round"/></svg></span></div>
<div class="mpanel">
<div class="mname">John Smith</div><span class="mbdg">Current</span>
<div class="mcid">Customer ID: 1234667890</div>
<div class="maddr">(555) 123-4567 &bull; 123 Main Street, Apt 4B, San Francisco, CA 94102</div>
<div class="mcs1">Customer Since</div><div class="mcs2">November 22, 2014</div><div class="mcs3">10 yrs, 4 mos, 6 days</div>
<span class="mtag" style="left:14.1px;width:60.6px">Priority Person</span><span class="mtag" style="left:79.9px;width:67.9px">Budget $300/mo</span><span class="mtag" style="left:153.0px;width:33.9px">Movies</span><span class="mtag" style="left:192.4px;width:32.6px">Sports</span><span class="mtag" style="left:230.4px;width:54.9px">Video Games</span><span class="mtag" style="left:290.7px;width:85.4px">English 2nd Language</span><span class="mtag" style="left:381.2px;width:70.7px">Accessible Needs</span><span class="mtag" style="left:457.0px;width:72.9px">Works From Home</span><span class="mtag" style="left:535.3px;width:38.6px">Children</span><div class="mst" style="left:14.1px"><div class="msl"><svg class="" style="" width="10" height="10" viewBox="0 0 24 24" fill="none"><path d="M5 3h4l2 5-2.5 1.5a11 11 0 0 0 6 6L16 13l5 2v4a2 2 0 0 1-2 2A16 16 0 0 1 3 5a2 2 0 0 1 2-2z" stroke="#1f62b0" stroke-width="1.7" stroke-linejoin="round"/></svg>Call Count</div><div class="msv ">4</div><div class="msk">View Call Log</div></div><div class="mst" style="left:172.5px"><div class="msl"><svg class="" style="" width="10" height="10" viewBox="0 0 24 24" fill="none"><rect x="3" y="5" width="18" height="16" rx="2" stroke="#1f62b0" stroke-width="2"/><path d="M3 10h18M8 2v5M16 2v5" stroke="#1f62b0" stroke-width="2"/></svg>Last Communication</div><div class="msv ">December 21, 2024</div><div class="msk">View Timeline</div></div><div class="mst" style="left:330.7px"><div class="msl"><svg class="" style="" width="10" height="10" viewBox="0 0 24 24" fill="none"><circle cx="12" cy="12" r="9.5" stroke="#23913a" stroke-width="2"/><path d="M12 7v6M12 16v1" stroke="#23913a" stroke-width="2.2"/></svg>Sentiment Score</div><div class="msv gr">Positive</div><div class="msk">View Analysis</div></div><div class="mst" style="left:489.1px"><div class="msl"><svg class="" style="" width="11" height="10" viewBox="0 0 24 24" fill="none"><path d="M2 18l7-7 4 4 8-8M15 7h6v6" stroke="#1f62b0" stroke-width="2.2" fill="none"/></svg>Monthly Recurring Revenue</div><div class="msv ">$407.62</div><div class="msk">View Billing</div></div>
</div>
<div class="mai">
<span class="aib">AI SUMMARY</span><span class="lcs">Last Call Summary</span>
<span class="iss">Issues Reported:</span><span class="ipill" style="left:460.9px;width:78.8px">Slow Internet Speed</span><span class="ipill" style="left:545.1px;width:91.6px">Peak Hour Performance</span>
<div class="mmeta"><span class="mk">Date:</span><span class="mvv">December 21, 2024</span><span class="msep"></span><span class="mk">Duration:</span><span class="mvv">8 min 32 sec</span><span class="msep"></span><span class="mk">Outcome:</span><span class="mok"><svg class="" style="" width="8" height="8" viewBox="0 0 24 24" fill="none"><circle cx="12" cy="12" r="9.5" stroke="#23913a" stroke-width="2.2"/><path d="M7.5 12.5l3 3 6-6.5" stroke="#23913a" stroke-width="2.2" fill="none"/></svg> Resolved - Technician Scheduled</span></div>
<div class="mtext">Customer reported intermittent internet connectivity issues during peak hours (6-9 PM). Agent confirmed customer's internet package speed and<br>performed remote diagnostics. Signal strength was found to be within acceptable range, but customer was experiencing slower speeds than expected.<br>Agent scheduled a technician visit for December 23, 2024, and provided a $25 service credit as a courtesy. Customer was satisfied with the resolution.</div>
</div>
<div class="mfoot"><span class="mclose">Close</span><span class="mbegin">Begin Call Session</span></div></div></div>
<div class="card" style="left:668px;top:540px;width:680px;height:1176px"><div class="scl0" style="width:680px;height:1176px"><div class="hdr"><div class="logo">Spectrum<span class="ltri"></span></div><span class="nav" style="left:97.6px">Call Reason</span><span class="nav act" style="left:154.2px">Customer</span><span class="nav" style="left:205.9px">Billing</span><span class="nav" style="left:242.6px">Repair</span><span class="nav" style="left:281.5px">Ordering</span><span class="nav" style="left:329.3px">Mobile</span><span class="nav" style="left:369.5px">Tools</span><span class="uline"></span></div><div class="body"><div class="cust">
<div class="jname">John Smith</div><span class="bdg g">Current</span>
<div class="cid">Customer ID: 1234567890</div>
<div class="csince"><span class="csl">Customer Since</span><span class="csd">November 22, 2014</span></div>
<div class="cyrs">10 yrs, 4 mos, 6 days</div>
<span class="tag" style="left:11.7px;width:56.2px">Priority Person</span><span class="tag" style="left:73.8px;width:62.6px">Budget $200/mo</span><span class="tag" style="left:142.9px;width:31.5px">Movies</span><span class="tag" style="left:181.1px;width:30.1px">Sports</span><span class="tag" style="left:217.2px;width:50.6px">Video Games</span><span class="tag" style="left:273.8px;width:77.2px">English 2nd Language</span><span class="tag" style="left:357.2px;width:63.6px">Accessible Needs</span><span class="tag" style="left:427.0px;width:67.3px">Works From Home</span><span class="tag" style="left:500.8px;width:35.6px">Children</span><span class="tag plus" style="left:542.7px;width:13.7px">+</span>
<div class="stats">
 <div class="st" style="left:6.4px"><div class="stl">Call Count <svg class="" style="" width="10.8" height="10.8" viewBox="0 0 24 24" fill="none"><circle cx="12" cy="12" r="10" stroke="#1f62b0" stroke-width="1.8"/><path d="M9.2 9.2a2.9 2.9 0 0 1 5.6 1c0 2-2.8 2.4-2.8 4.2" stroke="#1f62b0" stroke-width="1.8" stroke-linecap="round"/><circle cx="12" cy="17.6" r="1.1" fill="#1f62b0"/></svg></div><div class="stv"><b class="nv">4</b><span class="vsep"></span><span class="lnk">View Call Log</span></div></div>
 <div class="st" style="left:158px"><div class="stl">Last Communication</div><div class="stv nv">December 21, 2024</div></div>
 <div class="st" style="left:309.6px"><div class="stl">Sentiment Score <svg class="" style="" width="10.8" height="10.8" viewBox="0 0 24 24" fill="none"><circle cx="12" cy="12" r="10" stroke="#1f62b0" stroke-width="1.8"/><path d="M9.2 9.2a2.9 2.9 0 0 1 5.6 1c0 2-2.8 2.4-2.8 4.2" stroke="#1f62b0" stroke-width="1.8" stroke-linecap="round"/><circle cx="12" cy="17.6" r="1.1" fill="#1f62b0"/></svg></div><div class="stv gr">Positive</div></div>
 <div class="st" style="left:460.9px"><div class="stl">Monthly Recurring Revenue</div><div class="stv nv">$407.62</div></div>
</div>
</div><div class="h2 cs">Currently Selected</div><div class="sel"><div class="auth"><svg class="" style="" width="12" height="12" viewBox="0 0 24 24" fill="none"><path d="M12 2.5l8.5 3v6c0 5-3.6 8.8-8.5 10.5C7.1 20.3 3.5 16.5 3.5 11.5v-6z" stroke="#1b2230" stroke-width="2.2" stroke-linejoin="round"/><path d="M12 2.5v19.5c4.9-1.7 8.5-5.5 8.5-10.5v-6z" fill="#1b2230"/></svg><span class="authx">AUTHENTICATED &amp; VERIFIED</span><span class="rever"><svg class="" style="" width="11" height="11" viewBox="0 0 24 24" fill="none"><path d="M20 12a8 8 0 1 1-2.5-5.8M20 4v5h-5" stroke="#1f62b0" stroke-width="2.2" stroke-linecap="round" stroke-linejoin="round"/></svg>Re-Verify</span></div>
<div class="grp"><span class="gname">Residential Account Group<span class="bdg g">Active</span></span><span class="mr">Monthly Rate <b>$317.25</b></span></div>
<div class="addr">123 Pin Street, Townsville, NY, 10001</div><div class="svc core"><div class="svh"><div class="svt">Core Services<span class="bdg r">Outage Detected</span></div><div class="svp"><span class="dots">···</span>$227.25</div>
<div class="sva">8337110490837592<span class="pipe">|</span>Active Service<span class="gdot"></span></div>
<div class="svi"><svg class="" style="" width="12.8" height="12.8" viewBox="0 0 24 24" fill="none"><circle cx="12" cy="12" r="9.5" stroke="#1a1a1a" stroke-width="1.8"/><ellipse cx="12" cy="12" rx="4.2" ry="9.5" stroke="#1a1a1a" stroke-width="1.6"/><path d="M2.5 12h19M4 7h16M4 17h16" stroke="#1a1a1a" stroke-width="1.5"/></svg><svg class="" style="" width="11.4" height="11.4" viewBox="0 0 24 24" fill="none"><rect x="2" y="4" width="20" height="14" rx="1.5" stroke="#333" stroke-width="1.8"/><path d="M6 21l2-3M18 21l-2-3" stroke="#333" stroke-width="1.6"/></svg><svg class="" style="" width="11.5" height="11.5" viewBox="0 0 24 24" fill="none"><path d="M5 3h4l2 5-2.5 1.5a11 11 0 0 0 6 6L16 13l5 2v4a2 2 0 0 1-2 2A16 16 0 0 1 3 5a2 2 0 0 1 2-2z" stroke="#222" stroke-width="1.7" stroke-linejoin="round"/></svg><span class="chv"><svg class="" style="" width="17.5" height="17.5" viewBox="0 0 24 24" fill="none"><path d="M5 9l7 7 7-7" stroke="#1f62b0" stroke-width="1.9" stroke-linecap="round" stroke-linejoin="round"/></svg></span></div></div></div><div class="svc x"><div class="svh"><div class="svt">Mobile Services<span class="bdg r">Outage Detected</span></div><div class="svp"><span class="dots">···</span>$90.00</div>
<div class="sva">1022743000<span class="pipe">|</span>Active Service<span class="gdot"></span></div>
<div class="svi"><svg class="" style="" width="12.2" height="12.2" viewBox="0 0 24 24" fill="none"><rect x="6" y="2" width="12" height="20" rx="2" stroke="#222" stroke-width="1.9"/><path d="M6 5h12M6 19h12" stroke="#222" stroke-width="1.4"/></svg><span class="chv"><svg class="" style="" width="17.5" height="17.5" viewBox="0 0 24 24" fill="none"><path d="M5 15l7-7 7 7" stroke="#1f62b0" stroke-width="1.9" stroke-linecap="round" stroke-linejoin="round"/></svg></span></div></div><div class="svbody mob"><div class="info3"><div class="ibox"><div class="il a">Account Open Date</div><div class="iv a">December 21, 2010</div><div class="il b">Autopay</div><div class="iv b">Enrolled</div></div><div class="ibox"><div class="il a">Billing Address</div><div class="iv a">123 Pin Street, Townsville, NY, 10001</div><div class="il b">Payment Method</div><div class="iv b">Ending in 1234</div></div><div class="ibox"><div class="il a">Primary Contact</div><div class="iv a">123-456-7890</div><div class="il b">Secondary Contact</div><div class="iv b">emailaddressgoeshere@email.com</div></div></div><div class="sub exp"><span class="sico"><span class="sdot err">!</span><svg class="" style="" width="11.5" height="11.5" viewBox="0 0 24 24" fill="none"><rect x="6" y="2" width="12" height="20" rx="2" stroke="#222" stroke-width="1.9"/><path d="M6 5h12M6 19h12" stroke="#222" stroke-width="1.4"/></svg></span><span class="subn">Mobile</span><span class="subp">$90.00</span><span class="subc"><svg class="" style="" width="17.5" height="17.5" viewBox="0 0 24 24" fill="none"><path d="M5 15l7-7 7 7" stroke="#1f62b0" stroke-width="1.9" stroke-linecap="round" stroke-linejoin="round"/></svg></span></div><div class="xpanel" style="height:187px"><div class="alert err"><span class="aic err">!</span><b>Service outage detected:</b>&nbsp;Please see the event board for details<span class="alink">View Event Board</span></div><div class="alert warn"><span class="aic warn"></span><b>Device activation:</b>&nbsp;One or more devices require activation<span class="alink">Activate Devices</span></div><div class="tbl"><span class="th" style="left:7.8px;top:70.7px">Line</span><span class="th" style="left:94.5px;top:70.7px">Status</span><span class="th" style="left:180.9px;top:70.7px">Device</span><span class="th" style="left:267.6px;top:70.7px">Data Usage</span><span class="th" style="left:354px;top:70.7px">Plan Type</span><span class="th" style="left:440.7px;top:70.7px">Payment Plan</span><span class="th" style="left:527.4px;top:70.7px">Cost</span><span class="td" style="left:7.8px;top:96.2px;">123-456-7890</span><span class="td" style="left:94.5px;top:96.2px;">Active</span><span class="td" style="left:180.9px;top:96.2px;">Galaxy Watch</span><span class="td" style="left:267.6px;top:96.2px;">0.11 GB</span><span class="td" style="left:354px;top:96.2px;">Unlimited</span><span class="td" style="left:440.7px;top:96.2px;">Financed</span><span class="td" style="left:527.4px;top:96.2px;">$14.00</span><span class="td" style="left:7.8px;top:115.5px;">123-456-7890</span><span class="td" style="left:94.5px;top:115.5px;color:#c0392b">Outage Detected</span><span class="td" style="left:180.9px;top:115.5px;">Apple iPhone</span><span class="td" style="left:267.6px;top:115.5px;">0.31 GB</span><span class="td" style="left:354px;top:115.5px;">Unlimited</span><span class="td" style="left:440.7px;top:115.5px;">BYOD</span><span class="td" style="left:527.4px;top:115.5px;">$14.00</span><span class="td" style="left:7.8px;top:134.6px;">123-456-7890</span><span class="td" style="left:94.5px;top:134.6px;">Deactivated</span><span class="td" style="left:180.9px;top:134.6px;">Apple iPhone</span><span class="td" style="left:267.6px;top:134.6px;">0.00 GB</span><span class="td" style="left:354px;top:134.6px;">Unlimited</span><span class="td" style="left:440.7px;top:134.6px;">Paid in Full</span><span class="td" style="left:527.4px;top:134.6px;">$0.00</span><span class="td" style="left:7.8px;top:153.9px;">123-456-7890</span><span class="td" style="left:94.5px;top:153.9px;">Suspended</span><span class="td" style="left:180.9px;top:153.9px;">Apple iPhone</span><span class="td" style="left:267.6px;top:153.9px;">0.00 GB</span><span class="td" style="left:354px;top:153.9px;">Unlimited</span><span class="td" style="left:440.7px;top:153.9px;">BYOD</span><span class="td" style="left:527.4px;top:153.9px;">$0.00</span><span class="td" style="left:7.8px;top:173.2px;">123-456-7890</span><span class="td" style="left:94.5px;top:173.2px;color:#d9822b">Inactive</span><span class="td" style="left:180.9px;top:173.2px;">Apple iPhone</span><span class="td" style="left:267.6px;top:173.2px;">0.00 GB</span><span class="td" style="left:354px;top:173.2px;">Unlimited</span><span class="td" style="left:440.7px;top:173.2px;">BYOD</span><span class="td" style="left:527.4px;top:173.2px;">$0.00</span><div class="tsep" style="top:79.4px"></div></div></div></div></div><div class="svc"><div class="svh"><div class="svt">Streaming Services</div><div class="svp"><span class="dots">···</span>$27.07</div>
<div class="sva">1139472500<span class="pipe">|</span>Active Service<span class="gdot"></span></div>
<div class="svi"><svg class="" style="" width="11.5" height="11.5" viewBox="0 0 24 24" fill="none"><circle cx="12" cy="12" r="9.5" stroke="#222" stroke-width="1.8"/><path d="M10 8l6 4-6 4z" stroke="#222" stroke-width="1.6" stroke-linejoin="round"/></svg><span class="chv"><svg class="" style="" width="17.5" height="17.5" viewBox="0 0 24 24" fill="none"><path d="M5 9l7 7 7-7" stroke="#1f62b0" stroke-width="1.9" stroke-linecap="round" stroke-linejoin="round"/></svg></span></div></div></div></div><div class="h2 oa">Other Accounts (2)</div>
<div class="acct"><div class="grp"><span class="gname">Business Account Group<span class="bdg g">Active</span></span><span class="mr">Monthly Rate <b>$227.25</b></span><span class="abtn">Authenticate &amp; Verify</span></div>
<div class="addr">1999 Business Lane, Townsville, NY, 10001</div><div class="icbox"><svg class="" style="" width="16" height="16" viewBox="0 0 24 24" fill="none"><circle cx="12" cy="12" r="9.5" stroke="#222" stroke-width="1.8"/><ellipse cx="12" cy="12" rx="4.2" ry="9.5" stroke="#222" stroke-width="1.6"/><path d="M2.5 12h19M4 7h16M4 17h16" stroke="#222" stroke-width="1.5"/></svg><svg class="" style="" width="16.5" height="16.5" viewBox="0 0 24 24" fill="none"><rect x="6" y="2" width="12" height="20" rx="2" stroke="#222" stroke-width="1.9"/><path d="M6 5h12M6 19h12" stroke="#222" stroke-width="1.4"/></svg></div></div>
<div class="acct dis"><div class="grp"><span class="gname">Residential Account Group<span class="bdg r">Disconnected</span></span><span class="mr">Monthly Rate <b>$0.00</b></span><span class="abtn">Authenticate &amp; Verify</span></div>
<div class="addr">456 Old Address, Townsville, NY, 10001</div><div class="icbox"><svg class="" style="" width="16" height="16" viewBox="0 0 24 24" fill="none"><rect x="2" y="4" width="20" height="14" rx="1.5" stroke="#8a8f99" stroke-width="1.8"/><path d="M6 21l2-3M18 21l-2-3" stroke="#8a8f99" stroke-width="1.6"/></svg><svg class="" style="" width="16" height="16" viewBox="0 0 24 24" fill="none"><circle cx="12" cy="12" r="9.5" stroke="#8a8f99" stroke-width="1.8"/><ellipse cx="12" cy="12" rx="4.2" ry="9.5" stroke="#8a8f99" stroke-width="1.6"/><path d="M2.5 12h19M4 7h16M4 17h16" stroke="#8a8f99" stroke-width="1.5"/></svg></div></div></div></div></div>
<div class="card" style="left:1388px;top:60px;width:680px;height:1104px"><div class="scl0" style="width:680px;height:1104px"><div class="hdr"><div class="logo">Spectrum<span class="ltri"></span></div><span class="nav" style="left:97.6px">Call Reason</span><span class="nav act" style="left:154.2px">Customer</span><span class="nav" style="left:205.9px">Billing</span><span class="nav" style="left:242.6px">Repair</span><span class="nav" style="left:281.5px">Ordering</span><span class="nav" style="left:329.3px">Mobile</span><span class="nav" style="left:369.5px">Tools</span><span class="uline"></span></div><div class="body"><div class="cust">
<div class="jname">John Smith</div><span class="bdg g">Current</span>
<div class="cid">Customer ID: 1234567890</div>
<div class="csince"><span class="csl">Customer Since</span><span class="csd">November 22, 2014</span></div>
<div class="cyrs">10 yrs, 4 mos, 6 days</div>
<span class="tag" style="left:11.7px;width:56.2px">Priority Person</span><span class="tag" style="left:73.8px;width:62.6px">Budget $200/mo</span><span class="tag" style="left:142.9px;width:31.5px">Movies</span><span class="tag" style="left:181.1px;width:30.1px">Sports</span><span class="tag" style="left:217.2px;width:50.6px">Video Games</span><span class="tag" style="left:273.8px;width:77.2px">English 2nd Language</span><span class="tag" style="left:357.2px;width:63.6px">Accessible Needs</span><span class="tag" style="left:427.0px;width:67.3px">Works From Home</span><span class="tag" style="left:500.8px;width:35.6px">Children</span><span class="tag plus" style="left:542.7px;width:13.7px">+</span>
<div class="stats">
 <div class="st" style="left:6.4px"><div class="stl">Call Count <svg class="" style="" width="10.8" height="10.8" viewBox="0 0 24 24" fill="none"><circle cx="12" cy="12" r="10" stroke="#1f62b0" stroke-width="1.8"/><path d="M9.2 9.2a2.9 2.9 0 0 1 5.6 1c0 2-2.8 2.4-2.8 4.2" stroke="#1f62b0" stroke-width="1.8" stroke-linecap="round"/><circle cx="12" cy="17.6" r="1.1" fill="#1f62b0"/></svg></div><div class="stv"><b class="nv">4</b><span class="vsep"></span><span class="lnk">View Call Log</span></div></div>
 <div class="st" style="left:158px"><div class="stl">Last Communication</div><div class="stv nv">December 21, 2024</div></div>
 <div class="st" style="left:309.6px"><div class="stl">Sentiment Score <svg class="" style="" width="10.8" height="10.8" viewBox="0 0 24 24" fill="none"><circle cx="12" cy="12" r="10" stroke="#1f62b0" stroke-width="1.8"/><path d="M9.2 9.2a2.9 2.9 0 0 1 5.6 1c0 2-2.8 2.4-2.8 4.2" stroke="#1f62b0" stroke-width="1.8" stroke-linecap="round"/><circle cx="12" cy="17.6" r="1.1" fill="#1f62b0"/></svg></div><div class="stv gr">Positive</div></div>
 <div class="st" style="left:460.9px"><div class="stl">Monthly Recurring Revenue</div><div class="stv nv">$407.62</div></div>
</div>
</div><div class="h2 cs">Currently Selected</div><div class="sel"><div class="auth"><svg class="" style="" width="12" height="12" viewBox="0 0 24 24" fill="none"><path d="M12 2.5l8.5 3v6c0 5-3.6 8.8-8.5 10.5C7.1 20.3 3.5 16.5 3.5 11.5v-6z" stroke="#1b2230" stroke-width="2.2" stroke-linejoin="round"/><path d="M12 2.5v19.5c4.9-1.7 8.5-5.5 8.5-10.5v-6z" fill="#1b2230"/></svg><span class="authx">AUTHENTICATED &amp; VERIFIED</span><span class="rever"><svg class="" style="" width="11" height="11" viewBox="0 0 24 24" fill="none"><path d="M20 12a8 8 0 1 1-2.5-5.8M20 4v5h-5" stroke="#1f62b0" stroke-width="2.2" stroke-linecap="round" stroke-linejoin="round"/></svg>Re-Verify</span></div>
<div class="grp"><span class="gname">Residential Account Group<span class="bdg g">Active</span></span><span class="mr">Monthly Rate <b>$317.25</b></span></div>
<div class="addr">123 Pin Street, Townsville, NY, 10001</div><div class="svc core x"><div class="svh"><div class="svt">Core Services<span class="bdg r">Outage Detected</span></div><div class="svp"><span class="dots">···</span>$227.25</div>
<div class="sva">8337110490837592<span class="pipe">|</span>Active Service<span class="gdot"></span></div>
<div class="svi"><svg class="" style="" width="12.8" height="12.8" viewBox="0 0 24 24" fill="none"><circle cx="12" cy="12" r="9.5" stroke="#1a1a1a" stroke-width="1.8"/><ellipse cx="12" cy="12" rx="4.2" ry="9.5" stroke="#1a1a1a" stroke-width="1.6"/><path d="M2.5 12h19M4 7h16M4 17h16" stroke="#1a1a1a" stroke-width="1.5"/></svg><svg class="" style="" width="11.4" height="11.4" viewBox="0 0 24 24" fill="none"><rect x="2" y="4" width="20" height="14" rx="1.5" stroke="#333" stroke-width="1.8"/><path d="M6 21l2-3M18 21l-2-3" stroke="#333" stroke-width="1.6"/></svg><svg class="" style="" width="11.5" height="11.5" viewBox="0 0 24 24" fill="none"><path d="M5 3h4l2 5-2.5 1.5a11 11 0 0 0 6 6L16 13l5 2v4a2 2 0 0 1-2 2A16 16 0 0 1 3 5a2 2 0 0 1 2-2z" stroke="#222" stroke-width="1.7" stroke-linejoin="round"/></svg><span class="chv"><svg class="" style="" width="17.5" height="17.5" viewBox="0 0 24 24" fill="none"><path d="M5 15l7-7 7 7" stroke="#1f62b0" stroke-width="1.9" stroke-linecap="round" stroke-linejoin="round"/></svg></span></div></div><div class="svbody"><div class="info3"><div class="ibox"><div class="il a">Account Open Date</div><div class="iv a">December 21, 2010</div><div class="il b">Autopay</div><div class="iv b">Enrolled</div></div><div class="ibox"><div class="il a">Billing Address</div><div class="iv a">123 Pin Street, Townsville, NY, 10001</div><div class="il b">Payment Method</div><div class="iv b">Ending in 1234</div></div><div class="ibox"><div class="il a">Primary Contact</div><div class="iv a">123-456-7890</div><div class="il b">Secondary Contact</div><div class="iv b">emailaddressgoeshere@email.com</div></div></div><div class="sub exp"><span class="sico"><span class="sdot err">!</span><svg class="" style="" width="11.6" height="11.6" viewBox="0 0 24 24" fill="none"><circle cx="12" cy="12" r="9.5" stroke="#111" stroke-width="1.8"/><ellipse cx="12" cy="12" rx="4.2" ry="9.5" stroke="#111" stroke-width="1.6"/><path d="M2.5 12h19M4 7h16M4 17h16" stroke="#111" stroke-width="1.5"/></svg></span><span class="subn">Internet</span><span class="subp">$137.25</span><span class="subc"><svg class="" style="" width="17.5" height="17.5" viewBox="0 0 24 24" fill="none"><path d="M5 15l7-7 7 7" stroke="#1f62b0" stroke-width="1.9" stroke-linecap="round" stroke-linejoin="round"/></svg></span></div><div class="xpanel" style="height:103.3px"><div class="alert err"><span class="aic err">!</span><b>Service outage detected:</b>&nbsp;Please see the event board for details<span class="alink">View Event Board</span></div><div class="tbl" style="top:0"><span class="th" style="left:7.6px;top:44.3px">Service Type</span><span class="th" style="left:178.2px;top:44.3px">Status</span><span class="th" style="left:276.5px;top:44.3px">Installation Date</span><span class="th" style="left:374.3px;top:44.3px">Billing Start Date</span><span class="th" style="left:474.2px;top:44.3px">Quantity</span><span class="th" style="left:544.9px;top:44.3px">Cost</span><span class="td" style="left:7.6px;top:69.8px;">Spectrum Internet Premier Base</span><span class="td" style="left:178.2px;top:69.8px;">Active</span><span class="td" style="left:276.5px;top:69.8px;">03/06/25</span><span class="td" style="left:374.3px;top:69.8px;">03/06/25</span><span class="td" style="left:474.2px;top:69.8px;">1</span><span class="td" style="left:544.9px;top:69.8px;">$60.00</span><span class="td" style="left:7.6px;top:89.1px;">Internet GIG Add-On Asymmetrical</span><span class="td" style="left:178.2px;top:89.1px;color:#c0392b">Outage Detected</span><span class="td" style="left:276.5px;top:89.1px;">03/06/25</span><span class="td" style="left:374.3px;top:89.1px;">03/06/25</span><span class="td" style="left:474.2px;top:89.1px;">1</span><span class="td" style="left:544.9px;top:89.1px;">$77.25</span><div class="tsep" style="top:53px"></div></div></div><div class="sub"><span class="sico"><span class="sdot ok"></span><svg class="" style="" width="11.2" height="11.2" viewBox="0 0 24 24" fill="none"><rect x="2" y="4" width="20" height="14" rx="1.5" stroke="#222" stroke-width="1.8"/><path d="M6 21l2-3M18 21l-2-3" stroke="#222" stroke-width="1.6"/></svg></span><span class="subn">Video</span><span class="subp">$90.00</span><span class="subc"><svg class="" style="" width="17.5" height="17.5" viewBox="0 0 24 24" fill="none"><path d="M5 9l7 7 7-7" stroke="#1f62b0" stroke-width="1.9" stroke-linecap="round" stroke-linejoin="round"/></svg></span></div><div class="sub"><span class="sico"><span class="sdot ok"></span><svg class="" style="" width="10.5" height="10.5" viewBox="0 0 24 24" fill="none"><path d="M5 3h4l2 5-2.5 1.5a11 11 0 0 0 6 6L16 13l5 2v4a2 2 0 0 1-2 2A16 16 0 0 1 3 5a2 2 0 0 1 2-2z" stroke="#222" stroke-width="1.7" stroke-linejoin="round"/></svg></span><span class="subn">Voice</span><span class="subp">$14.00</span><span class="subc"><svg class="" style="" width="17.5" height="17.5" viewBox="0 0 24 24" fill="none"><path d="M5 9l7 7 7-7" stroke="#1f62b0" stroke-width="1.9" stroke-linecap="round" stroke-linejoin="round"/></svg></span></div></div></div><div class="svc"><div class="svh"><div class="svt">Mobile Services<span class="bdg r">Outage Detected</span></div><div class="svp"><span class="dots">···</span>$90.00</div>
<div class="sva">1022743000<span class="pipe">|</span>Active Service<span class="gdot"></span></div>
<div class="svi"><svg class="" style="" width="12.2" height="12.2" viewBox="0 0 24 24" fill="none"><rect x="6" y="2" width="12" height="20" rx="2" stroke="#222" stroke-width="1.9"/><path d="M6 5h12M6 19h12" stroke="#222" stroke-width="1.4"/></svg><span class="chv"><svg class="" style="" width="17.5" height="17.5" viewBox="0 0 24 24" fill="none"><path d="M5 9l7 7 7-7" stroke="#1f62b0" stroke-width="1.9" stroke-linecap="round" stroke-linejoin="round"/></svg></span></div></div></div><div class="svc"><div class="svh"><div class="svt">Streaming Services</div><div class="svp"><span class="dots">···</span>$27.07</div>
<div class="sva">1139472500<span class="pipe">|</span>Active Service<span class="gdot"></span></div>
<div class="svi"><svg class="" style="" width="11.5" height="11.5" viewBox="0 0 24 24" fill="none"><circle cx="12" cy="12" r="9.5" stroke="#222" stroke-width="1.8"/><path d="M10 8l6 4-6 4z" stroke="#222" stroke-width="1.6" stroke-linejoin="round"/></svg><span class="chv"><svg class="" style="" width="17.5" height="17.5" viewBox="0 0 24 24" fill="none"><path d="M5 9l7 7 7-7" stroke="#1f62b0" stroke-width="1.9" stroke-linecap="round" stroke-linejoin="round"/></svg></span></div></div></div></div><div class="h2 oa">Other Accounts (2)</div>
<div class="acct"><div class="grp"><span class="gname">Business Account Group<span class="bdg g">Active</span></span><span class="mr">Monthly Rate <b>$227.25</b></span><span class="abtn">Authenticate &amp; Verify</span></div>
<div class="addr">1999 Business Lane, Townsville, NY, 10001</div><div class="icbox"><svg class="" style="" width="16" height="16" viewBox="0 0 24 24" fill="none"><circle cx="12" cy="12" r="9.5" stroke="#222" stroke-width="1.8"/><ellipse cx="12" cy="12" rx="4.2" ry="9.5" stroke="#222" stroke-width="1.6"/><path d="M2.5 12h19M4 7h16M4 17h16" stroke="#222" stroke-width="1.5"/></svg><svg class="" style="" width="16.5" height="16.5" viewBox="0 0 24 24" fill="none"><rect x="6" y="2" width="12" height="20" rx="2" stroke="#222" stroke-width="1.9"/><path d="M6 5h12M6 19h12" stroke="#222" stroke-width="1.4"/></svg></div></div>
<div class="acct dis"><div class="grp"><span class="gname">Residential Account Group<span class="bdg r">Disconnected</span></span><span class="mr">Monthly Rate <b>$0.00</b></span><span class="abtn">Authenticate &amp; Verify</span></div>
<div class="addr">456 Old Address, Townsville, NY, 10001</div><div class="icbox"><svg class="" style="" width="16" height="16" viewBox="0 0 24 24" fill="none"><rect x="2" y="4" width="20" height="14" rx="1.5" stroke="#8a8f99" stroke-width="1.8"/><path d="M6 21l2-3M18 21l-2-3" stroke="#8a8f99" stroke-width="1.6"/></svg><svg class="" style="" width="16" height="16" viewBox="0 0 24 24" fill="none"><circle cx="12" cy="12" r="9.5" stroke="#8a8f99" stroke-width="1.8"/><ellipse cx="12" cy="12" rx="4.2" ry="9.5" stroke="#8a8f99" stroke-width="1.6"/><path d="M2.5 12h19M4 7h16M4 17h16" stroke="#8a8f99" stroke-width="1.5"/></svg></div></div></div></div></div>
<div class="card" style="left:1388px;top:1204px;width:680px;height:512px"><div class="scl0" style="width:680px;height:512px"><div class="body fs"><div class="sel fsel"><div class="prevbox"></div><div class="svc x"><div class="svh"><div class="svt">Streaming Services</div><div class="svp"><span class="dots">···</span>$27.07</div>
<div class="sva">1139472500<span class="pipe">|</span>Active Service<span class="gdot"></span></div>
<div class="svi"><svg class="" style="" width="11.5" height="11.5" viewBox="0 0 24 24" fill="none"><circle cx="12" cy="12" r="9.5" stroke="#222" stroke-width="1.8"/><path d="M10 8l6 4-6 4z" stroke="#222" stroke-width="1.6" stroke-linejoin="round"/></svg><span class="chv"><svg class="" style="" width="17.5" height="17.5" viewBox="0 0 24 24" fill="none"><path d="M5 15l7-7 7 7" stroke="#1f62b0" stroke-width="1.9" stroke-linecap="round" stroke-linejoin="round"/></svg></span></div></div><div class="svbody str"><div class="sub exp"><span class="sico"><span class="sdot ok"></span><svg class="" style="" width="11.2" height="11.2" viewBox="0 0 24 24" fill="none"><circle cx="12" cy="12" r="9.5" stroke="#222" stroke-width="1.8"/><path d="M10 8l6 4-6 4z" stroke="#222" stroke-width="1.6" stroke-linejoin="round"/></svg></span><span class="subn">Streaming</span><span class="subp">$27.07</span><span class="subc"><svg class="" style="" width="17.5" height="17.5" viewBox="0 0 24 24" fill="none"><path d="M5 15l7-7 7 7" stroke="#1f62b0" stroke-width="1.9" stroke-linecap="round" stroke-linejoin="round"/></svg></span></div><div class="xpanel" style="height:121.5px"><div class="tbl"><span class="th" style="left:7.8px;top:20.9px">Streaming&nbsp; Service</span><span class="th" style="left:119px;top:20.9px">Status</span><span class="th" style="left:167.3px;top:20.9px">Account Open Date</span><span class="th" style="left:272.8px;top:20.9px">Payment Method</span><span class="th" style="left:379px;top:20.9px">Autopay</span><span class="th" style="left:445.9px;top:20.9px">Email Address</span><span class="th" style="left:551.8px;top:20.9px">Cost</span><span class="slogo" style="left:7.8px;top:38.0px;background:#1c63dc"><svg width="18.8" height="18.8" viewBox="0 0 24 24"><path d="M4 14a8 8 0 0 1 16 0" stroke="#e8eefc" stroke-width="1.6" fill="none"/><path d="M5 19l5-7 2.5 3 2-2 4.5 6z" fill="#e8eefc"/></svg></span><span class="td" style="left:30.5px;top:50.3px">Paramount+ Essential</span><span class="td" style="left:119px;top:50.3px;color:#23913a">Active</span><span class="td" style="left:167.3px;top:50.3px">Feb 16, 2022</span><span class="td" style="left:272.8px;top:50.3px">Ending in 1234</span><span class="td" style="left:379px;top:50.3px">Yes</span><span class="td" style="left:445.9px;top:50.3px">jsmith@gmail.com</span><span class="td" style="left:551.8px;top:50.3px">7.99/mo</span><span class="slogo" style="left:7.8px;top:64.9px;background:linear-gradient(135deg,#2436b8,#101c8a)">max</span><span class="td" style="left:30.5px;top:77.2px">Max</span><span class="td" style="left:119px;top:77.2px;color:#23913a">Active</span><span class="td" style="left:167.3px;top:77.2px">Feb 16, 2022</span><span class="td" style="left:272.8px;top:77.2px">Ending in 1234</span><span class="td" style="left:379px;top:77.2px">Yes</span><span class="td" style="left:445.9px;top:77.2px">jsmith@gmail.com</span><span class="td" style="left:551.8px;top:77.2px">9.99/mo</span><span class="slogo" style="left:7.8px;top:91.8px;background:linear-gradient(180deg,#17465a,#2a7a8a)">Disney+</span><span class="td" style="left:30.5px;top:104.1px">Disney+</span><span class="td" style="left:119px;top:104.1px;color:#23913a">Active</span><span class="td" style="left:167.3px;top:104.1px">Feb 16, 2022</span><span class="td" style="left:272.8px;top:104.1px">Ending in 1234</span><span class="td" style="left:379px;top:104.1px">Yes</span><span class="td" style="left:445.9px;top:104.1px">jsmith@gmail.com</span><span class="td" style="left:551.8px;top:104.1px">9.99/mo</span><div class="tsep" style="top:29.6px"></div></div></div></div></div></div><div class="h2 oa">Other Accounts (2)</div>
<div class="acct"><div class="grp"><span class="gname">Business Account Group<span class="bdg g">Active</span></span><span class="mr">Monthly Rate <b>$227.25</b></span><span class="abtn">Authenticate &amp; Verify</span></div>
<div class="addr">1999 Business Lane, Townsville, NY, 10001</div><div class="icbox"><svg class="" style="" width="16" height="16" viewBox="0 0 24 24" fill="none"><circle cx="12" cy="12" r="9.5" stroke="#222" stroke-width="1.8"/><ellipse cx="12" cy="12" rx="4.2" ry="9.5" stroke="#222" stroke-width="1.6"/><path d="M2.5 12h19M4 7h16M4 17h16" stroke="#222" stroke-width="1.5"/></svg><svg class="" style="" width="16.5" height="16.5" viewBox="0 0 24 24" fill="none"><rect x="6" y="2" width="12" height="20" rx="2" stroke="#222" stroke-width="1.9"/><path d="M6 5h12M6 19h12" stroke="#222" stroke-width="1.4"/></svg></div></div>
<div class="acct dis"><div class="grp"><span class="gname">Residential Account Group<span class="bdg r">Disconnected</span></span><span class="mr">Monthly Rate <b>$0.00</b></span><span class="abtn">Authenticate &amp; Verify</span></div>
<div class="addr">456 Old Address, Townsville, NY, 10001</div><div class="icbox"><svg class="" style="" width="16" height="16" viewBox="0 0 24 24" fill="none"><rect x="2" y="4" width="20" height="14" rx="1.5" stroke="#8a8f99" stroke-width="1.8"/><path d="M6 21l2-3M18 21l-2-3" stroke="#8a8f99" stroke-width="1.6"/></svg><svg class="" style="" width="16" height="16" viewBox="0 0 24 24" fill="none"><circle cx="12" cy="12" r="9.5" stroke="#8a8f99" stroke-width="1.8"/><ellipse cx="12" cy="12" rx="4.2" ry="9.5" stroke="#8a8f99" stroke-width="1.6"/><path d="M2.5 12h19M4 7h16M4 17h16" stroke="#8a8f99" stroke-width="1.5"/></svg></div></div></div></div></div>
<div class="card sm" style="left:2108px;top:60px;width:588px;height:920px"><div class="scl" style="width:678.2px;height:1061.1px"><div class="hdr"><div class="logo">Spectrum<span class="ltri"></span></div><span class="nav" style="left:97.6px">Call Reason</span><span class="nav act" style="left:154.2px">Customer</span><span class="nav" style="left:205.9px">Billing</span><span class="nav" style="left:242.6px">Repair</span><span class="nav" style="left:281.5px">Ordering</span><span class="nav" style="left:329.3px">Mobile</span><span class="nav" style="left:369.5px">Tools</span><span class="uline"></span></div><div class="body"><div class="cust">
<div class="jname">John Smith</div><span class="bdg g">Current</span>
<div class="cid">Customer ID: 1234567890</div>
<div class="csince"><span class="csl">Customer Since</span><span class="csd">November 22, 2014</span></div>
<div class="cyrs">10 yrs, 4 mos, 6 days</div>
<span class="tag" style="left:11.7px;width:56.2px">Priority Person</span><span class="tag" style="left:73.8px;width:62.6px">Budget $200/mo</span><span class="tag" style="left:142.9px;width:31.5px">Movies</span><span class="tag" style="left:181.1px;width:30.1px">Sports</span><span class="tag" style="left:217.2px;width:50.6px">Video Games</span><span class="tag" style="left:273.8px;width:77.2px">English 2nd Language</span><span class="tag" style="left:357.2px;width:63.6px">Accessible Needs</span><span class="tag" style="left:427.0px;width:67.3px">Works From Home</span><span class="tag" style="left:500.8px;width:35.6px">Children</span><span class="tag plus" style="left:542.7px;width:13.7px">+</span>
<div class="stats">
 <div class="st" style="left:6.4px"><div class="stl">Call Count <svg class="" style="" width="10.8" height="10.8" viewBox="0 0 24 24" fill="none"><circle cx="12" cy="12" r="10" stroke="#1f62b0" stroke-width="1.8"/><path d="M9.2 9.2a2.9 2.9 0 0 1 5.6 1c0 2-2.8 2.4-2.8 4.2" stroke="#1f62b0" stroke-width="1.8" stroke-linecap="round"/><circle cx="12" cy="17.6" r="1.1" fill="#1f62b0"/></svg></div><div class="stv"><b class="nv">4</b><span class="vsep"></span><span class="lnk">View Call Log</span></div></div>
 <div class="st" style="left:158px"><div class="stl">Last Communication</div><div class="stv nv">December 21, 2024</div></div>
 <div class="st" style="left:309.6px"><div class="stl">Sentiment Score <svg class="" style="" width="10.8" height="10.8" viewBox="0 0 24 24" fill="none"><circle cx="12" cy="12" r="10" stroke="#1f62b0" stroke-width="1.8"/><path d="M9.2 9.2a2.9 2.9 0 0 1 5.6 1c0 2-2.8 2.4-2.8 4.2" stroke="#1f62b0" stroke-width="1.8" stroke-linecap="round"/><circle cx="12" cy="17.6" r="1.1" fill="#1f62b0"/></svg></div><div class="stv gr">Positive</div></div>
 <div class="st" style="left:460.9px"><div class="stl">Monthly Recurring Revenue</div><div class="stv nv">$407.62</div></div>
</div>
</div><div class="h2 cs">Currently Selected</div><div class="sel"><div class="auth"><svg class="" style="" width="12" height="12" viewBox="0 0 24 24" fill="none"><path d="M12 2.5l8.5 3v6c0 5-3.6 8.8-8.5 10.5C7.1 20.3 3.5 16.5 3.5 11.5v-6z" stroke="#1b2230" stroke-width="2.2" stroke-linejoin="round"/><path d="M12 2.5v19.5c4.9-1.7 8.5-5.5 8.5-10.5v-6z" fill="#1b2230"/></svg><span class="authx">AUTHENTICATED &amp; VERIFIED</span><span class="rever"><svg class="" style="" width="11" height="11" viewBox="0 0 24 24" fill="none"><path d="M20 12a8 8 0 1 1-2.5-5.8M20 4v5h-5" stroke="#1f62b0" stroke-width="2.2" stroke-linecap="round" stroke-linejoin="round"/></svg>Re-Verify</span></div>
<div class="grp"><span class="gname">Residential Account Group<span class="bdg g">Active</span></span><span class="mr">Monthly Rate <b>$317.25</b></span></div>
<div class="addr">123 Pin Street, Townsville, NY, 10001</div><div class="svc core x"><div class="svh"><div class="svt">Core Services<span class="bdg r">Outage Detected</span></div><div class="svp"><span class="dots">···</span>$227.25</div>
<div class="sva">8337110490837592<span class="pipe">|</span>Active Service<span class="gdot"></span></div>
<div class="svi"><svg class="" style="" width="12.8" height="12.8" viewBox="0 0 24 24" fill="none"><circle cx="12" cy="12" r="9.5" stroke="#1a1a1a" stroke-width="1.8"/><ellipse cx="12" cy="12" rx="4.2" ry="9.5" stroke="#1a1a1a" stroke-width="1.6"/><path d="M2.5 12h19M4 7h16M4 17h16" stroke="#1a1a1a" stroke-width="1.5"/></svg><svg class="" style="" width="11.4" height="11.4" viewBox="0 0 24 24" fill="none"><rect x="2" y="4" width="20" height="14" rx="1.5" stroke="#333" stroke-width="1.8"/><path d="M6 21l2-3M18 21l-2-3" stroke="#333" stroke-width="1.6"/></svg><svg class="" style="" width="11.5" height="11.5" viewBox="0 0 24 24" fill="none"><path d="M5 3h4l2 5-2.5 1.5a11 11 0 0 0 6 6L16 13l5 2v4a2 2 0 0 1-2 2A16 16 0 0 1 3 5a2 2 0 0 1 2-2z" stroke="#222" stroke-width="1.7" stroke-linejoin="round"/></svg><span class="chv"><svg class="" style="" width="17.5" height="17.5" viewBox="0 0 24 24" fill="none"><path d="M5 15l7-7 7 7" stroke="#1f62b0" stroke-width="1.9" stroke-linecap="round" stroke-linejoin="round"/></svg></span></div></div><div class="svbody"><div class="info3"><div class="ibox"><div class="il a">Account Open Date</div><div class="iv a">December 21, 2010</div><div class="il b">Autopay</div><div class="iv b">Enrolled</div></div><div class="ibox"><div class="il a">Billing Address</div><div class="iv a">123 Pin Street, Townsville, NY, 10001</div><div class="il b">Payment Method</div><div class="iv b">Ending in 1234</div></div><div class="ibox"><div class="il a">Primary Contact</div><div class="iv a">123-456-7890</div><div class="il b">Secondary Contact</div><div class="iv b">emailaddressgoeshere@email.com</div></div></div><div class="sub"><span class="sico"><span class="sdot err">!</span><svg class="" style="" width="11.6" height="11.6" viewBox="0 0 24 24" fill="none"><circle cx="12" cy="12" r="9.5" stroke="#111" stroke-width="1.8"/><ellipse cx="12" cy="12" rx="4.2" ry="9.5" stroke="#111" stroke-width="1.6"/><path d="M2.5 12h19M4 7h16M4 17h16" stroke="#111" stroke-width="1.5"/></svg></span><span class="subn">Internet</span><span class="subp">$137.25</span><span class="subc"><svg class="" style="" width="17.5" height="17.5" viewBox="0 0 24 24" fill="none"><path d="M5 9l7 7 7-7" stroke="#1f62b0" stroke-width="1.9" stroke-linecap="round" stroke-linejoin="round"/></svg></span></div><div class="sub"><span class="sico"><span class="sdot ok"></span><svg class="" style="" width="11.2" height="11.2" viewBox="0 0 24 24" fill="none"><rect x="2" y="4" width="20" height="14" rx="1.5" stroke="#222" stroke-width="1.8"/><path d="M6 21l2-3M18 21l-2-3" stroke="#222" stroke-width="1.6"/></svg></span><span class="subn">Video</span><span class="subp">$90.00</span><span class="subc"><svg class="" style="" width="17.5" height="17.5" viewBox="0 0 24 24" fill="none"><path d="M5 9l7 7 7-7" stroke="#1f62b0" stroke-width="1.9" stroke-linecap="round" stroke-linejoin="round"/></svg></span></div><div class="sub"><span class="sico"><span class="sdot ok"></span><svg class="" style="" width="10.5" height="10.5" viewBox="0 0 24 24" fill="none"><path d="M5 3h4l2 5-2.5 1.5a11 11 0 0 0 6 6L16 13l5 2v4a2 2 0 0 1-2 2A16 16 0 0 1 3 5a2 2 0 0 1 2-2z" stroke="#222" stroke-width="1.7" stroke-linejoin="round"/></svg></span><span class="subn">Voice</span><span class="subp">$14.00</span><span class="subc"><svg class="" style="" width="17.5" height="17.5" viewBox="0 0 24 24" fill="none"><path d="M5 9l7 7 7-7" stroke="#1f62b0" stroke-width="1.9" stroke-linecap="round" stroke-linejoin="round"/></svg></span></div></div></div><div class="svc"><div class="svh"><div class="svt">Mobile Services<span class="bdg r">Outage Detected</span></div><div class="svp"><span class="dots">···</span>$90.00</div>
<div class="sva">1022743000<span class="pipe">|</span>Active Service<span class="gdot"></span></div>
<div class="svi"><svg class="" style="" width="12.2" height="12.2" viewBox="0 0 24 24" fill="none"><rect x="6" y="2" width="12" height="20" rx="2" stroke="#222" stroke-width="1.9"/><path d="M6 5h12M6 19h12" stroke="#222" stroke-width="1.4"/></svg><span class="chv"><svg class="" style="" width="17.5" height="17.5" viewBox="0 0 24 24" fill="none"><path d="M5 9l7 7 7-7" stroke="#1f62b0" stroke-width="1.9" stroke-linecap="round" stroke-linejoin="round"/></svg></span></div></div></div><div class="svc"><div class="svh"><div class="svt">Streaming Services</div><div class="svp"><span class="dots">···</span>$27.07</div>
<div class="sva">1139472500<span class="pipe">|</span>Active Service<span class="gdot"></span></div>
<div class="svi"><svg class="" style="" width="11.5" height="11.5" viewBox="0 0 24 24" fill="none"><circle cx="12" cy="12" r="9.5" stroke="#222" stroke-width="1.8"/><path d="M10 8l6 4-6 4z" stroke="#222" stroke-width="1.6" stroke-linejoin="round"/></svg><span class="chv"><svg class="" style="" width="17.5" height="17.5" viewBox="0 0 24 24" fill="none"><path d="M5 9l7 7 7-7" stroke="#1f62b0" stroke-width="1.9" stroke-linecap="round" stroke-linejoin="round"/></svg></span></div></div></div></div><div class="h2 oa">Other Accounts (2)</div>
<div class="acct"><div class="grp"><span class="gname">Business Account Group<span class="bdg g">Active</span></span><span class="mr">Monthly Rate <b>$227.25</b></span><span class="abtn">Authenticate &amp; Verify</span></div>
<div class="addr">1999 Business Lane, Townsville, NY, 10001</div><div class="icbox"><svg class="" style="" width="16" height="16" viewBox="0 0 24 24" fill="none"><circle cx="12" cy="12" r="9.5" stroke="#222" stroke-width="1.8"/><ellipse cx="12" cy="12" rx="4.2" ry="9.5" stroke="#222" stroke-width="1.6"/><path d="M2.5 12h19M4 7h16M4 17h16" stroke="#222" stroke-width="1.5"/></svg><svg class="" style="" width="16.5" height="16.5" viewBox="0 0 24 24" fill="none"><rect x="6" y="2" width="12" height="20" rx="2" stroke="#222" stroke-width="1.9"/><path d="M6 5h12M6 19h12" stroke="#222" stroke-width="1.4"/></svg></div></div>
<div class="acct dis"><div class="grp"><span class="gname">Residential Account Group<span class="bdg r">Disconnected</span></span><span class="mr">Monthly Rate <b>$0.00</b></span><span class="abtn">Authenticate &amp; Verify</span></div>
<div class="addr">456 Old Address, Townsville, NY, 10001</div><div class="icbox"><svg class="" style="" width="16" height="16" viewBox="0 0 24 24" fill="none"><rect x="2" y="4" width="20" height="14" rx="1.5" stroke="#8a8f99" stroke-width="1.8"/><path d="M6 21l2-3M18 21l-2-3" stroke="#8a8f99" stroke-width="1.6"/></svg><svg class="" style="" width="16" height="16" viewBox="0 0 24 24" fill="none"><circle cx="12" cy="12" r="9.5" stroke="#8a8f99" stroke-width="1.8"/><ellipse cx="12" cy="12" rx="4.2" ry="9.5" stroke="#8a8f99" stroke-width="1.6"/><path d="M2.5 12h19M4 7h16M4 17h16" stroke="#8a8f99" stroke-width="1.5"/></svg></div></div></div></div></div>
<div class="card sm" style="left:2108px;top:1020px;width:588px;height:696px"><div class="scl" style="width:678.2px;height:802.8px"><div class="hdr"><div class="logo">Spectrum<span class="ltri"></span></div><span class="nav" style="left:97.6px">Call Reason</span><span class="nav act" style="left:154.2px">Customer</span><span class="nav" style="left:205.9px">Billing</span><span class="nav" style="left:242.6px">Repair</span><span class="nav" style="left:281.5px">Ordering</span><span class="nav" style="left:329.3px">Mobile</span><span class="nav" style="left:369.5px">Tools</span><span class="uline"></span></div><div class="body"><div class="cust">
<div class="jname">John Smith</div><span class="bdg g">Current</span>
<div class="cid">Customer ID: 1234567890</div>
<div class="csince"><span class="csl">Customer Since</span><span class="csd">November 22, 2014</span></div>
<div class="cyrs">10 yrs, 4 mos, 6 days</div>
<span class="tag" style="left:11.7px;width:56.2px">Priority Person</span><span class="tag" style="left:73.8px;width:62.6px">Budget $200/mo</span><span class="tag" style="left:142.9px;width:31.5px">Movies</span><span class="tag" style="left:181.1px;width:30.1px">Sports</span><span class="tag" style="left:217.2px;width:50.6px">Video Games</span><span class="tag" style="left:273.8px;width:77.2px">English 2nd Language</span><span class="tag" style="left:357.2px;width:63.6px">Accessible Needs</span><span class="tag" style="left:427.0px;width:67.3px">Works From Home</span><span class="tag" style="left:500.8px;width:35.6px">Children</span><span class="tag plus" style="left:542.7px;width:13.7px">+</span>
<div class="stats">
 <div class="st" style="left:6.4px"><div class="stl">Call Count <svg class="" style="" width="10.8" height="10.8" viewBox="0 0 24 24" fill="none"><circle cx="12" cy="12" r="10" stroke="#1f62b0" stroke-width="1.8"/><path d="M9.2 9.2a2.9 2.9 0 0 1 5.6 1c0 2-2.8 2.4-2.8 4.2" stroke="#1f62b0" stroke-width="1.8" stroke-linecap="round"/><circle cx="12" cy="17.6" r="1.1" fill="#1f62b0"/></svg></div><div class="stv"><b class="nv">4</b><span class="vsep"></span><span class="lnk">View Call Log</span></div></div>
 <div class="st" style="left:158px"><div class="stl">Last Communication</div><div class="stv nv">December 21, 2024</div></div>
 <div class="st" style="left:309.6px"><div class="stl">Sentiment Score <svg class="" style="" width="10.8" height="10.8" viewBox="0 0 24 24" fill="none"><circle cx="12" cy="12" r="10" stroke="#1f62b0" stroke-width="1.8"/><path d="M9.2 9.2a2.9 2.9 0 0 1 5.6 1c0 2-2.8 2.4-2.8 4.2" stroke="#1f62b0" stroke-width="1.8" stroke-linecap="round"/><circle cx="12" cy="17.6" r="1.1" fill="#1f62b0"/></svg></div><div class="stv gr">Positive</div></div>
 <div class="st" style="left:460.9px"><div class="stl">Monthly Recurring Revenue</div><div class="stv nv">$407.62</div></div>
</div>
</div><div class="h2 cs">Currently Selected</div><div class="sel"><div class="auth"><svg class="" style="" width="12" height="12" viewBox="0 0 24 24" fill="none"><path d="M12 2.5l8.5 3v6c0 5-3.6 8.8-8.5 10.5C7.1 20.3 3.5 16.5 3.5 11.5v-6z" stroke="#1b2230" stroke-width="2.2" stroke-linejoin="round"/><path d="M12 2.5v19.5c4.9-1.7 8.5-5.5 8.5-10.5v-6z" fill="#1b2230"/></svg><span class="authx">AUTHENTICATED &amp; VERIFIED</span><span class="rever"><svg class="" style="" width="11" height="11" viewBox="0 0 24 24" fill="none"><path d="M20 12a8 8 0 1 1-2.5-5.8M20 4v5h-5" stroke="#1f62b0" stroke-width="2.2" stroke-linecap="round" stroke-linejoin="round"/></svg>Re-Verify</span></div>
<div class="grp"><span class="gname">Residential Account Group<span class="bdg g">Active</span></span><span class="mr">Monthly Rate <b>$317.25</b></span></div>
<div class="addr">123 Pin Street, Townsville, NY, 10001</div><div class="svc core"><div class="svh"><div class="svt">Core Services<span class="bdg r">Outage Detected</span></div><div class="svp"><span class="dots">···</span>$227.25</div>
<div class="sva">8337110490837592<span class="pipe">|</span>Active Service<span class="gdot"></span></div>
<div class="svi"><svg class="" style="" width="12.8" height="12.8" viewBox="0 0 24 24" fill="none"><circle cx="12" cy="12" r="9.5" stroke="#1a1a1a" stroke-width="1.8"/><ellipse cx="12" cy="12" rx="4.2" ry="9.5" stroke="#1a1a1a" stroke-width="1.6"/><path d="M2.5 12h19M4 7h16M4 17h16" stroke="#1a1a1a" stroke-width="1.5"/></svg><svg class="" style="" width="11.4" height="11.4" viewBox="0 0 24 24" fill="none"><rect x="2" y="4" width="20" height="14" rx="1.5" stroke="#333" stroke-width="1.8"/><path d="M6 21l2-3M18 21l-2-3" stroke="#333" stroke-width="1.6"/></svg><svg class="" style="" width="11.5" height="11.5" viewBox="0 0 24 24" fill="none"><path d="M5 3h4l2 5-2.5 1.5a11 11 0 0 0 6 6L16 13l5 2v4a2 2 0 0 1-2 2A16 16 0 0 1 3 5a2 2 0 0 1 2-2z" stroke="#222" stroke-width="1.7" stroke-linejoin="round"/></svg><span class="chv"><svg class="" style="" width="17.5" height="17.5" viewBox="0 0 24 24" fill="none"><path d="M5 9l7 7 7-7" stroke="#1f62b0" stroke-width="1.9" stroke-linecap="round" stroke-linejoin="round"/></svg></span></div></div></div><div class="svc"><div class="svh"><div class="svt">Mobile Services<span class="bdg r">Outage Detected</span></div><div class="svp"><span class="dots">···</span>$90.00</div>
<div class="sva">1022743000<span class="pipe">|</span>Active Service<span class="gdot"></span></div>
<div class="svi"><svg class="" style="" width="12.2" height="12.2" viewBox="0 0 24 24" fill="none"><rect x="6" y="2" width="12" height="20" rx="2" stroke="#222" stroke-width="1.9"/><path d="M6 5h12M6 19h12" stroke="#222" stroke-width="1.4"/></svg><span class="chv"><svg class="" style="" width="17.5" height="17.5" viewBox="0 0 24 24" fill="none"><path d="M5 9l7 7 7-7" stroke="#1f62b0" stroke-width="1.9" stroke-linecap="round" stroke-linejoin="round"/></svg></span></div></div></div><div class="svc"><div class="svh"><div class="svt">Streaming Services</div><div class="svp"><span class="dots">···</span>$27.07</div>
<div class="sva">1139472500<span class="pipe">|</span>Active Service<span class="gdot"></span></div>
<div class="svi"><svg class="" style="" width="11.5" height="11.5" viewBox="0 0 24 24" fill="none"><circle cx="12" cy="12" r="9.5" stroke="#222" stroke-width="1.8"/><path d="M10 8l6 4-6 4z" stroke="#222" stroke-width="1.6" stroke-linejoin="round"/></svg><span class="chv"><svg class="" style="" width="17.5" height="17.5" viewBox="0 0 24 24" fill="none"><path d="M5 9l7 7 7-7" stroke="#1f62b0" stroke-width="1.9" stroke-linecap="round" stroke-linejoin="round"/></svg></span></div></div></div></div><div class="h2 oa">Other Accounts (2)</div>
<div class="acct"><div class="grp"><span class="gname">Business Account Group<span class="bdg g">Active</span></span><span class="mr">Monthly Rate <b>$227.25</b></span><span class="abtn">Authenticate &amp; Verify</span></div>
<div class="addr">1999 Business Lane, Townsville, NY, 10001</div><div class="icbox"><svg class="" style="" width="16" height="16" viewBox="0 0 24 24" fill="none"><circle cx="12" cy="12" r="9.5" stroke="#222" stroke-width="1.8"/><ellipse cx="12" cy="12" rx="4.2" ry="9.5" stroke="#222" stroke-width="1.6"/><path d="M2.5 12h19M4 7h16M4 17h16" stroke="#222" stroke-width="1.5"/></svg><svg class="" style="" width="16.5" height="16.5" viewBox="0 0 24 24" fill="none"><rect x="6" y="2" width="12" height="20" rx="2" stroke="#222" stroke-width="1.9"/><path d="M6 5h12M6 19h12" stroke="#222" stroke-width="1.4"/></svg></div></div>
<div class="acct dis gd"><div class="grp"><span class="gname">Residential Account Group<span class="bdg r">Disconnected</span></span><span class="mr">Monthly Rate <b>$0.00</b></span><span class="abtn">Authenticate &amp; Verify</span></div>
<div class="addr">456 Old Address, Townsville, NY, 10001</div><div class="icbox"><svg class="" style="" width="16" height="16" viewBox="0 0 24 24" fill="none"><rect x="2" y="4" width="20" height="14" rx="1.5" stroke="#8a8f99" stroke-width="1.8"/><path d="M6 21l2-3M18 21l-2-3" stroke="#8a8f99" stroke-width="1.6"/></svg><svg class="" style="" width="16" height="16" viewBox="0 0 24 24" fill="none"><circle cx="12" cy="12" r="9.5" stroke="#8a8f99" stroke-width="1.8"/><ellipse cx="12" cy="12" rx="4.2" ry="9.5" stroke="#8a8f99" stroke-width="1.6"/><path d="M2.5 12h19M4 7h16M4 17h16" stroke="#8a8f99" stroke-width="1.5"/></svg></div></div></div></div></div>
<div class="card" style="left:2736px;top:60px;width:680px;height:1176px"><div class="scl0" style="width:680px;height:1176px"><div class="hdr"><div class="logo">Spectrum<span class="ltri"></span></div><span class="nav" style="left:97.6px">Call Reason</span><span class="nav act" style="left:154.2px">Customer</span><span class="nav" style="left:205.9px">Billing</span><span class="nav" style="left:242.6px">Repair</span><span class="nav" style="left:281.5px">Ordering</span><span class="nav" style="left:329.3px">Mobile</span><span class="nav" style="left:369.5px">Tools</span><span class="uline"></span></div><div class="body"><div class="cust">
<div class="jname">John Smith</div><span class="bdg g">Current</span>
<div class="cid">Customer ID: 1234567890</div>
<div class="csince"><span class="csl">Customer Since</span><span class="csd">November 22, 2014</span></div>
<div class="cyrs">10 yrs, 4 mos, 6 days</div>
<span class="tag" style="left:11.7px;width:56.2px">Priority Person</span><span class="tag" style="left:73.8px;width:62.6px">Budget $200/mo</span><span class="tag" style="left:142.9px;width:31.5px">Movies</span><span class="tag" style="left:181.1px;width:30.1px">Sports</span><span class="tag" style="left:217.2px;width:50.6px">Video Games</span><span class="tag" style="left:273.8px;width:77.2px">English 2nd Language</span><span class="tag" style="left:357.2px;width:63.6px">Accessible Needs</span><span class="tag" style="left:427.0px;width:67.3px">Works From Home</span><span class="tag" style="left:500.8px;width:35.6px">Children</span><span class="tag plus" style="left:542.7px;width:13.7px">+</span>
<div class="stats">
 <div class="st" style="left:6.4px"><div class="stl">Call Count <svg class="" style="" width="10.8" height="10.8" viewBox="0 0 24 24" fill="none"><circle cx="12" cy="12" r="10" stroke="#1f62b0" stroke-width="1.8"/><path d="M9.2 9.2a2.9 2.9 0 0 1 5.6 1c0 2-2.8 2.4-2.8 4.2" stroke="#1f62b0" stroke-width="1.8" stroke-linecap="round"/><circle cx="12" cy="17.6" r="1.1" fill="#1f62b0"/></svg></div><div class="stv"><b class="nv">4</b><span class="vsep"></span><span class="lnk">View Call Log</span></div></div>
 <div class="st" style="left:158px"><div class="stl">Last Communication</div><div class="stv nv">December 21, 2024</div></div>
 <div class="st" style="left:309.6px"><div class="stl">Sentiment Score <svg class="" style="" width="10.8" height="10.8" viewBox="0 0 24 24" fill="none"><circle cx="12" cy="12" r="10" stroke="#1f62b0" stroke-width="1.8"/><path d="M9.2 9.2a2.9 2.9 0 0 1 5.6 1c0 2-2.8 2.4-2.8 4.2" stroke="#1f62b0" stroke-width="1.8" stroke-linecap="round"/><circle cx="12" cy="17.6" r="1.1" fill="#1f62b0"/></svg></div><div class="stv gr">Positive</div></div>
 <div class="st" style="left:460.9px"><div class="stl">Monthly Recurring Revenue</div><div class="stv nv">$407.62</div></div>
</div>
</div><div class="h2 cs">Currently Selected</div><div class="sel"><div class="auth"><svg class="" style="" width="12" height="12" viewBox="0 0 24 24" fill="none"><path d="M12 2.5l8.5 3v6c0 5-3.6 8.8-8.5 10.5C7.1 20.3 3.5 16.5 3.5 11.5v-6z" stroke="#1b2230" stroke-width="2.2" stroke-linejoin="round"/><path d="M12 2.5v19.5c4.9-1.7 8.5-5.5 8.5-10.5v-6z" fill="#1b2230"/></svg><span class="authx">AUTHENTICATED &amp; VERIFIED</span><span class="rever"><svg class="" style="" width="11" height="11" viewBox="0 0 24 24" fill="none"><path d="M20 12a8 8 0 1 1-2.5-5.8M20 4v5h-5" stroke="#1f62b0" stroke-width="2.2" stroke-linecap="round" stroke-linejoin="round"/></svg>Re-Verify</span></div>
<div class="grp"><span class="gname">Residential Account Group<span class="bdg g">Active</span></span><span class="mr">Monthly Rate <b>$317.25</b></span></div>
<div class="addr">123 Pin Street, Townsville, NY, 10001</div><div class="svc core"><div class="svh"><div class="svt">Core Services<span class="bdg r">Outage Detected</span></div><div class="svp"><span class="dots">···</span>$227.25</div>
<div class="sva">8337110490837592<span class="pipe">|</span>Active Service<span class="gdot"></span></div>
<div class="svi"><svg class="" style="" width="12.8" height="12.8" viewBox="0 0 24 24" fill="none"><circle cx="12" cy="12" r="9.5" stroke="#1a1a1a" stroke-width="1.8"/><ellipse cx="12" cy="12" rx="4.2" ry="9.5" stroke="#1a1a1a" stroke-width="1.6"/><path d="M2.5 12h19M4 7h16M4 17h16" stroke="#1a1a1a" stroke-width="1.5"/></svg><svg class="" style="" width="11.4" height="11.4" viewBox="0 0 24 24" fill="none"><rect x="2" y="4" width="20" height="14" rx="1.5" stroke="#333" stroke-width="1.8"/><path d="M6 21l2-3M18 21l-2-3" stroke="#333" stroke-width="1.6"/></svg><svg class="" style="" width="11.5" height="11.5" viewBox="0 0 24 24" fill="none"><path d="M5 3h4l2 5-2.5 1.5a11 11 0 0 0 6 6L16 13l5 2v4a2 2 0 0 1-2 2A16 16 0 0 1 3 5a2 2 0 0 1 2-2z" stroke="#222" stroke-width="1.7" stroke-linejoin="round"/></svg><span class="chv"><svg class="" style="" width="17.5" height="17.5" viewBox="0 0 24 24" fill="none"><path d="M5 9l7 7 7-7" stroke="#1f62b0" stroke-width="1.9" stroke-linecap="round" stroke-linejoin="round"/></svg></span></div></div></div><div class="svc x"><div class="svh"><div class="svt">Mobile Services<span class="bdg r">Outage Detected</span></div><div class="svp"><span class="dots">···</span>$90.00</div>
<div class="sva">1022743000<span class="pipe">|</span>Active Service<span class="gdot"></span></div>
<div class="svi"><svg class="" style="" width="12.2" height="12.2" viewBox="0 0 24 24" fill="none"><rect x="6" y="2" width="12" height="20" rx="2" stroke="#222" stroke-width="1.9"/><path d="M6 5h12M6 19h12" stroke="#222" stroke-width="1.4"/></svg><span class="chv"><svg class="" style="" width="17.5" height="17.5" viewBox="0 0 24 24" fill="none"><path d="M5 15l7-7 7 7" stroke="#1f62b0" stroke-width="1.9" stroke-linecap="round" stroke-linejoin="round"/></svg></span></div></div><div class="svbody mob"><div class="info3"><div class="ibox"><div class="il a">Account Open Date</div><div class="iv a">December 21, 2010</div><div class="il b">Autopay</div><div class="iv b">Enrolled</div></div><div class="ibox"><div class="il a">Billing Address</div><div class="iv a">123 Pin Street, Townsville, NY, 10001</div><div class="il b">Payment Method</div><div class="iv b">Ending in 1234</div></div><div class="ibox"><div class="il a">Primary Contact</div><div class="iv a">123-456-7890</div><div class="il b">Secondary Contact</div><div class="iv b">emailaddressgoeshere@email.com</div></div></div><div class="sub exp"><span class="sico"><span class="sdot err">!</span><svg class="" style="" width="11.5" height="11.5" viewBox="0 0 24 24" fill="none"><rect x="6" y="2" width="12" height="20" rx="2" stroke="#222" stroke-width="1.9"/><path d="M6 5h12M6 19h12" stroke="#222" stroke-width="1.4"/></svg></span><span class="subn">Mobile</span><span class="subp">$90.00</span><span class="subc"><svg class="" style="" width="17.5" height="17.5" viewBox="0 0 24 24" fill="none"><path d="M5 15l7-7 7 7" stroke="#1f62b0" stroke-width="1.9" stroke-linecap="round" stroke-linejoin="round"/></svg></span></div><div class="xpanel" style="height:187px"><div class="alert err"><span class="aic err">!</span><b>Service outage detected:</b>&nbsp;Please see the event board for details<span class="alink">View Event Board</span></div><div class="alert warn"><span class="aic warn"></span><b>Device activation:</b>&nbsp;One or more devices require activation<span class="alink">Activate Devices</span></div><div class="tbl"><span class="th" style="left:7.8px;top:70.7px">Line</span><span class="th" style="left:94.5px;top:70.7px">Status</span><span class="th" style="left:180.9px;top:70.7px">Device</span><span class="th" style="left:267.6px;top:70.7px">Data Usage</span><span class="th" style="left:354px;top:70.7px">Plan Type</span><span class="th" style="left:440.7px;top:70.7px">Payment Plan</span><span class="th" style="left:527.4px;top:70.7px">Cost</span><span class="td" style="left:7.8px;top:96.2px;">123-456-7890</span><span class="td" style="left:94.5px;top:96.2px;">Active</span><span class="td" style="left:180.9px;top:96.2px;">Galaxy Watch</span><span class="td" style="left:267.6px;top:96.2px;">0.11 GB</span><span class="td" style="left:354px;top:96.2px;">Unlimited</span><span class="td" style="left:440.7px;top:96.2px;">Financed</span><span class="td" style="left:527.4px;top:96.2px;">$14.00</span><span class="td" style="left:7.8px;top:115.5px;">123-456-7890</span><span class="td" style="left:94.5px;top:115.5px;color:#c0392b">Outage Detected</span><span class="td" style="left:180.9px;top:115.5px;">Apple iPhone</span><span class="td" style="left:267.6px;top:115.5px;">0.31 GB</span><span class="td" style="left:354px;top:115.5px;">Unlimited</span><span class="td" style="left:440.7px;top:115.5px;">BYOD</span><span class="td" style="left:527.4px;top:115.5px;">$14.00</span><span class="td" style="left:7.8px;top:134.6px;">123-456-7890</span><span class="td" style="left:94.5px;top:134.6px;">Deactivated</span><span class="td" style="left:180.9px;top:134.6px;">Apple iPhone</span><span class="td" style="left:267.6px;top:134.6px;">0.00 GB</span><span class="td" style="left:354px;top:134.6px;">Unlimited</span><span class="td" style="left:440.7px;top:134.6px;">Paid in Full</span><span class="td" style="left:527.4px;top:134.6px;">$0.00</span><span class="td" style="left:7.8px;top:153.9px;">123-456-7890</span><span class="td" style="left:94.5px;top:153.9px;">Suspended</span><span class="td" style="left:180.9px;top:153.9px;">Apple iPhone</span><span class="td" style="left:267.6px;top:153.9px;">0.00 GB</span><span class="td" style="left:354px;top:153.9px;">Unlimited</span><span class="td" style="left:440.7px;top:153.9px;">BYOD</span><span class="td" style="left:527.4px;top:153.9px;">$0.00</span><span class="td" style="left:7.8px;top:173.2px;">123-456-7890</span><span class="td" style="left:94.5px;top:173.2px;color:#d9822b">Inactive</span><span class="td" style="left:180.9px;top:173.2px;">Apple iPhone</span><span class="td" style="left:267.6px;top:173.2px;">0.00 GB</span><span class="td" style="left:354px;top:173.2px;">Unlimited</span><span class="td" style="left:440.7px;top:173.2px;">BYOD</span><span class="td" style="left:527.4px;top:173.2px;">$0.00</span><div class="tsep" style="top:79.4px"></div></div></div></div></div><div class="svc"><div class="svh"><div class="svt">Streaming Services</div><div class="svp"><span class="dots">···</span>$27.07</div>
<div class="sva">1139472500<span class="pipe">|</span>Active Service<span class="gdot"></span></div>
<div class="svi"><svg class="" style="" width="11.5" height="11.5" viewBox="0 0 24 24" fill="none"><circle cx="12" cy="12" r="9.5" stroke="#222" stroke-width="1.8"/><path d="M10 8l6 4-6 4z" stroke="#222" stroke-width="1.6" stroke-linejoin="round"/></svg><span class="chv"><svg class="" style="" width="17.5" height="17.5" viewBox="0 0 24 24" fill="none"><path d="M5 9l7 7 7-7" stroke="#1f62b0" stroke-width="1.9" stroke-linecap="round" stroke-linejoin="round"/></svg></span></div></div></div></div><div class="h2 oa">Other Accounts (2)</div>
<div class="acct"><div class="grp"><span class="gname">Business Account Group<span class="bdg g">Active</span></span><span class="mr">Monthly Rate <b>$227.25</b></span><span class="abtn">Authenticate &amp; Verify</span></div>
<div class="addr">1999 Business Lane, Townsville, NY, 10001</div><div class="icbox"><svg class="" style="" width="16" height="16" viewBox="0 0 24 24" fill="none"><circle cx="12" cy="12" r="9.5" stroke="#222" stroke-width="1.8"/><ellipse cx="12" cy="12" rx="4.2" ry="9.5" stroke="#222" stroke-width="1.6"/><path d="M2.5 12h19M4 7h16M4 17h16" stroke="#222" stroke-width="1.5"/></svg><svg class="" style="" width="16.5" height="16.5" viewBox="0 0 24 24" fill="none"><rect x="6" y="2" width="12" height="20" rx="2" stroke="#222" stroke-width="1.9"/><path d="M6 5h12M6 19h12" stroke="#222" stroke-width="1.4"/></svg></div></div>
<div class="acct dis"><div class="grp"><span class="gname">Residential Account Group<span class="bdg r">Disconnected</span></span><span class="mr">Monthly Rate <b>$0.00</b></span><span class="abtn">Authenticate &amp; Verify</span></div>
<div class="addr">456 Old Address, Townsville, NY, 10001</div><div class="icbox"><svg class="" style="" width="16" height="16" viewBox="0 0 24 24" fill="none"><rect x="2" y="4" width="20" height="14" rx="1.5" stroke="#8a8f99" stroke-width="1.8"/><path d="M6 21l2-3M18 21l-2-3" stroke="#8a8f99" stroke-width="1.6"/></svg><svg class="" style="" width="16" height="16" viewBox="0 0 24 24" fill="none"><circle cx="12" cy="12" r="9.5" stroke="#8a8f99" stroke-width="1.8"/><ellipse cx="12" cy="12" rx="4.2" ry="9.5" stroke="#8a8f99" stroke-width="1.6"/><path d="M2.5 12h19M4 7h16M4 17h16" stroke="#8a8f99" stroke-width="1.5"/></svg></div></div></div></div></div>
<div class="card modal" style="left:2736px;top:1276px;width:680px;height:440px"><div class="scl0" style="width:680px;height:440px"><div class="mhdr"><svg class="" style="" width="12" height="12" viewBox="0 0 24 24" fill="none"><path d="M5 3h4l2 5-2.5 1.5a11 11 0 0 0 6 6L16 13l5 2v4a2 2 0 0 1-2 2A16 16 0 0 1 3 5a2 2 0 0 1 2-2z" stroke="#e8eef6" stroke-width="1.7" stroke-linejoin="round"/></svg><span class="mtitle">Incoming Call - Customer Verification</span><span class="mx"><svg class="" style="" width="11" height="11" viewBox="0 0 24 24" fill="none"><path d="M5 5l14 14M19 5L5 19" stroke="#e8eef6" stroke-width="2.4" stroke-linecap="round"/></svg></span></div>
<div class="mpanel">
<div class="mname">John Smith</div><span class="mbdg">Current</span>
<div class="mcid">Customer ID: 1234667890</div>
<div class="maddr">(555) 123-4567 &bull; 123 Main Street, Apt 4B, San Francisco, CA 94102</div>
<div class="mcs1">Customer Since</div><div class="mcs2">November 22, 2014</div><div class="mcs3">10 yrs, 4 mos, 6 days</div>
<span class="mtag" style="left:14.1px;width:60.6px">Priority Person</span><span class="mtag" style="left:79.9px;width:67.9px">Budget $300/mo</span><span class="mtag" style="left:153.0px;width:33.9px">Movies</span><span class="mtag" style="left:192.4px;width:32.6px">Sports</span><span class="mtag" style="left:230.4px;width:54.9px">Video Games</span><span class="mtag" style="left:290.7px;width:85.4px">English 2nd Language</span><span class="mtag" style="left:381.2px;width:70.7px">Accessible Needs</span><span class="mtag" style="left:457.0px;width:72.9px">Works From Home</span><span class="mtag" style="left:535.3px;width:38.6px">Children</span><div class="mst" style="left:14.1px"><div class="msl"><svg class="" style="" width="10" height="10" viewBox="0 0 24 24" fill="none"><path d="M5 3h4l2 5-2.5 1.5a11 11 0 0 0 6 6L16 13l5 2v4a2 2 0 0 1-2 2A16 16 0 0 1 3 5a2 2 0 0 1 2-2z" stroke="#1f62b0" stroke-width="1.7" stroke-linejoin="round"/></svg>Call Count</div><div class="msv ">4</div><div class="msk">View Call Log</div></div><div class="mst" style="left:172.5px"><div class="msl"><svg class="" style="" width="10" height="10" viewBox="0 0 24 24" fill="none"><rect x="3" y="5" width="18" height="16" rx="2" stroke="#1f62b0" stroke-width="2"/><path d="M3 10h18M8 2v5M16 2v5" stroke="#1f62b0" stroke-width="2"/></svg>Last Communication</div><div class="msv ">December 21, 2024</div><div class="msk">View Timeline</div></div><div class="mst" style="left:330.7px"><div class="msl"><svg class="" style="" width="10" height="10" viewBox="0 0 24 24" fill="none"><circle cx="12" cy="12" r="9.5" stroke="#23913a" stroke-width="2"/><path d="M12 7v6M12 16v1" stroke="#23913a" stroke-width="2.2"/></svg>Sentiment Score</div><div class="msv gr">Positive</div><div class="msk">View Analysis</div></div><div class="mst" style="left:489.1px"><div class="msl"><svg class="" style="" width="11" height="10" viewBox="0 0 24 24" fill="none"><path d="M2 18l7-7 4 4 8-8M15 7h6v6" stroke="#1f62b0" stroke-width="2.2" fill="none"/></svg>Monthly Recurring Revenue</div><div class="msv ">$407.62</div><div class="msk">View Billing</div></div>
</div>
<div class="mai">
<span class="aib">AI SUMMARY</span><span class="lcs">Last Call Summary</span>
<span class="iss">Issues Reported:</span><span class="ipill" style="left:460.9px;width:78.8px">Slow Internet Speed</span><span class="ipill" style="left:545.1px;width:91.6px">Peak Hour Performance</span>
<div class="mmeta"><span class="mk">Date:</span><span class="mvv">December 21, 2024</span><span class="msep"></span><span class="mk">Duration:</span><span class="mvv">8 min 32 sec</span><span class="msep"></span><span class="mk">Outcome:</span><span class="mok"><svg class="" style="" width="8" height="8" viewBox="0 0 24 24" fill="none"><circle cx="12" cy="12" r="9.5" stroke="#23913a" stroke-width="2.2"/><path d="M7.5 12.5l3 3 6-6.5" stroke="#23913a" stroke-width="2.2" fill="none"/></svg> Resolved - Technician Scheduled</span></div>
<div class="mtext">Customer reported intermittent internet connectivity issues during peak hours (6-9 PM). Agent confirmed customer's internet package speed and<br>performed remote diagnostics. Signal strength was found to be within acceptable range, but customer was experiencing slower speeds than expected.<br>Agent scheduled a technician visit for December 23, 2024, and provided a $25 service credit as a courtesy. Customer was satisfied with the resolution.</div>
</div>
<div class="mfoot"><span class="mclose">Close</span><span class="mbegin">Begin Call Session</span></div></div></div>
</body></html>
